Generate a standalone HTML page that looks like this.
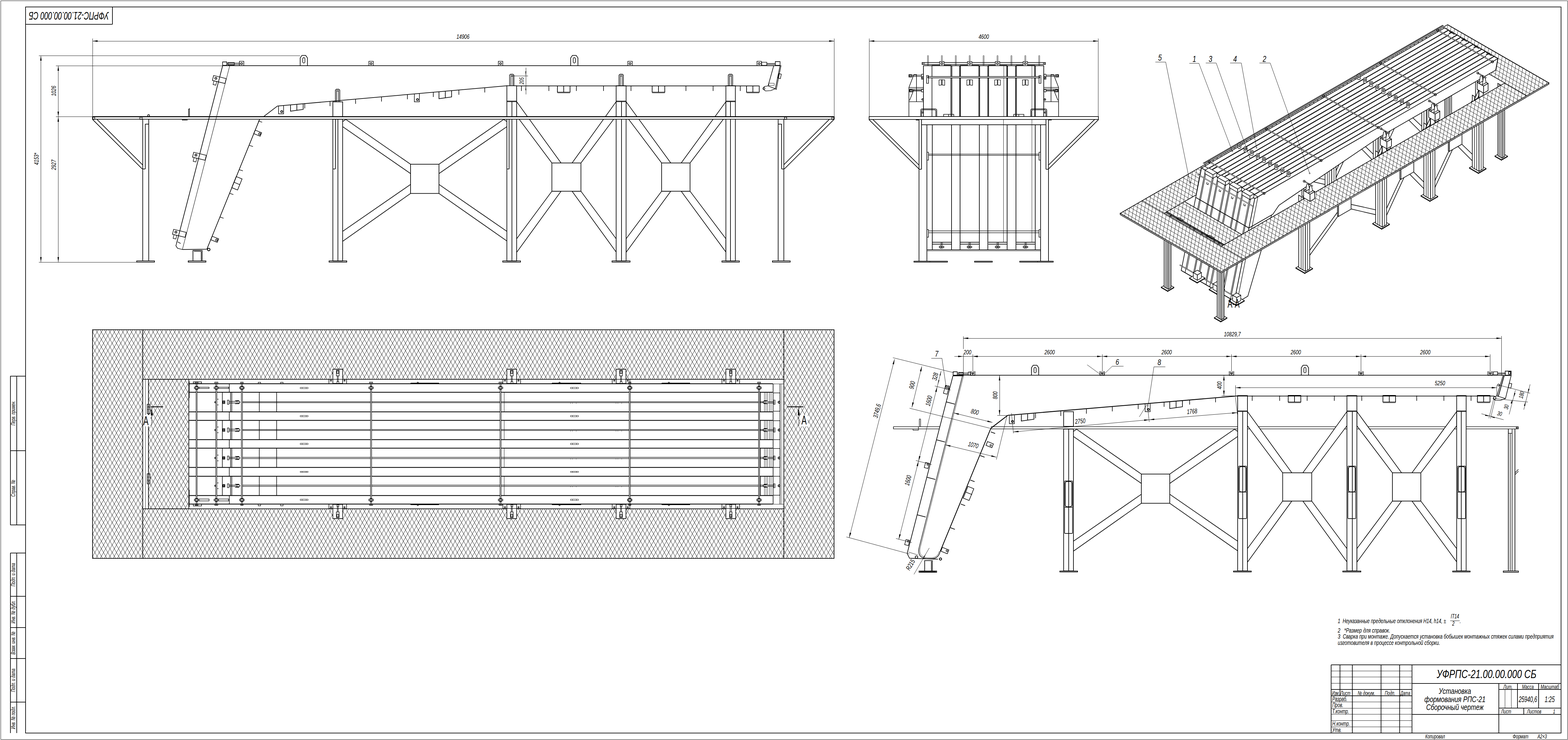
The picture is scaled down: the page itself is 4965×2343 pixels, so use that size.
<!DOCTYPE html>
<html><head><meta charset="utf-8"><title>drawing</title>
<style>
html,body{margin:0;padding:0;background:#fff;}
body{width:4965px;height:2343px;overflow:hidden;}
svg{display:block;font-family:"Liberation Sans",sans-serif;font-style:italic;}
</style></head><body>
<svg width="4965" height="2343" viewBox="0 0 4965 2343" fill="none" stroke="#000" stroke-linecap="butt" stroke-linejoin="miter">
<defs>
<clipPath id="cpl"><path clip-rule="evenodd" d="M293 1044H2641V1768.5H293ZM451.5 1201H2482.5V1611H451.5ZM470 1201H596.5V1611H470Z"/></clipPath>
<clipPath id="cpi"><path clip-rule="evenodd" d="M3547 675.5L4584 78L4904.5 262.5L3867.5 860ZM3686.6 675.2L4583.6 158.4L4764.9 262.8L3867.9 779.6ZM3694.8 670.5L3750.7 638.3L3931.9 742.7L3876 774.9Z"/></clipPath>
</defs>
<rect x="0" y="0" width="4965" height="2343" fill="#fff" stroke="none"/>
<text transform="translate(218 37.5) rotate(180) scale(0.6206 1)" font-size="36" text-anchor="middle" fill="#000" stroke="none">УФРПС-21.00.00.000 СБ</text>
<text transform="translate(48 1308) rotate(-90) scale(0.6196 1)" font-size="19" text-anchor="middle" fill="#000" stroke="none">Перв. примен.</text>
<text transform="translate(48 1546) rotate(-90) scale(0.6196 1)" font-size="19" text-anchor="middle" fill="#000" stroke="none">Справ. №</text>
<text transform="translate(48 1819.6) rotate(-90) scale(0.6196 1)" font-size="19" text-anchor="middle" fill="#000" stroke="none">Подп. и дата</text>
<text transform="translate(48 1937.6) rotate(-90) scale(0.6196 1)" font-size="19" text-anchor="middle" fill="#000" stroke="none">Инв. № дубл.</text>
<text transform="translate(48 2035.8) rotate(-90) scale(0.6196 1)" font-size="19" text-anchor="middle" fill="#000" stroke="none">Взам. инв. №</text>
<text transform="translate(48 2153.8) rotate(-90) scale(0.6196 1)" font-size="19" text-anchor="middle" fill="#000" stroke="none">Подп. и дата</text>
<text transform="translate(48 2271.8) rotate(-90) scale(0.6196 1)" font-size="19" text-anchor="middle" fill="#000" stroke="none">Инв. № подл.</text>
<text transform="translate(4707 2147) scale(0.751 1)" font-size="37" text-anchor="middle" fill="#000" stroke="none">УФРПС-21.00.00.000 СБ</text>
<text transform="translate(4607 2196.5) scale(0.7638 1)" font-size="26" text-anchor="middle" fill="#000" stroke="none">Установка</text>
<text transform="translate(4607 2223) scale(0.7654 1)" font-size="26" text-anchor="middle" fill="#000" stroke="none">формования РПС-21</text>
<text transform="translate(4607 2248) scale(0.7567 1)" font-size="26" text-anchor="middle" fill="#000" stroke="none">Сборочный чертеж</text>
<text transform="translate(4775 2180.5) scale(0.6595 1)" font-size="19" text-anchor="middle" fill="#000" stroke="none">Лит.</text>
<text transform="translate(4838 2180.5) scale(0.6595 1)" font-size="19" text-anchor="middle" fill="#000" stroke="none">Масса</text>
<text transform="translate(4907.5 2180.5) scale(0.6595 1)" font-size="19" text-anchor="middle" fill="#000" stroke="none">Масштаб</text>
<text transform="translate(4838 2223) scale(0.6197 1)" font-size="26" text-anchor="middle" fill="#000" stroke="none">25940,6</text>
<text transform="translate(4907 2223) scale(0.6197 1)" font-size="26" text-anchor="middle" fill="#000" stroke="none">1:25</text>
<text transform="translate(4753 2259) scale(0.6595 1)" font-size="19" fill="#000" stroke="none">Лист</text>
<text transform="translate(4835 2259) scale(0.6595 1)" font-size="19" fill="#000" stroke="none">Листов</text>
<text transform="translate(4921 2259) scale(0.6595 1)" font-size="19" text-anchor="middle" fill="#000" stroke="none">1</text>
<text transform="translate(4217.5 2200.5) scale(0.6002 1)" font-size="19" fill="#000" stroke="none">Изм.</text>
<text transform="translate(4244 2200.5) scale(0.6595 1)" font-size="19" fill="#000" stroke="none">Лист</text>
<text transform="translate(4326.5 2200.5) scale(0.6595 1)" font-size="19" text-anchor="middle" fill="#000" stroke="none">№ докум.</text>
<text transform="translate(4401.5 2200.5) scale(0.6595 1)" font-size="19" text-anchor="middle" fill="#000" stroke="none">Подп.</text>
<text transform="translate(4450 2200.5) scale(0.6196 1)" font-size="19" text-anchor="middle" fill="#000" stroke="none">Дата</text>
<text transform="translate(4218.5 2220) scale(0.6602 1)" font-size="20" fill="#000" stroke="none">Разраб.</text>
<text transform="translate(4218.5 2239.3) scale(0.6602 1)" font-size="20" fill="#000" stroke="none">Пров.</text>
<text transform="translate(4218.5 2259) scale(0.6602 1)" font-size="20" fill="#000" stroke="none">Т.контр.</text>
<text transform="translate(4218.5 2298.3) scale(0.6602 1)" font-size="20" fill="#000" stroke="none">Н.контр.</text>
<text transform="translate(4218.5 2317.8) scale(0.6602 1)" font-size="20" fill="#000" stroke="none">Утв.</text>
<text transform="translate(4513 2338) scale(0.6595 1)" font-size="19" fill="#000" stroke="none">Копировал</text>
<text transform="translate(4790 2338) scale(0.6595 1)" font-size="19" fill="#000" stroke="none">Формат</text>
<text transform="translate(4868.5 2338) scale(0.6595 1)" font-size="19" fill="#000" stroke="none">А2×3</text>
<text transform="translate(4236 1972.5) scale(0.696 1)" font-size="20" fill="#000" stroke="none">1&#160;&#160;Неуказанные предельные отклонения H14, h14, ±</text>
<text transform="translate(4607 1958) scale(0.6602 1)" font-size="20" text-anchor="middle" fill="#000" stroke="none">IT14</text>
<text transform="translate(4602 1981) scale(0.6602 1)" font-size="20" text-anchor="middle" fill="#000" stroke="none">2</text>
<text transform="translate(4622 1973) scale(0.6602 1)" font-size="20" fill="#000" stroke="none">.</text>
<text transform="translate(4236 2002.5) scale(0.7277 1)" font-size="20" fill="#000" stroke="none">2&#160;&#160;&#160;*Размер для справок.</text>
<text transform="translate(4236 2021.5) scale(0.7144 1)" font-size="20" fill="#000" stroke="none">3&#160;&#160;Сварка при монтаже. Допускается установка бобышек монтажных стяжек силами предприятия</text>
<text transform="translate(4236 2041.5) scale(0.7155 1)" font-size="20" fill="#000" stroke="none">изготовителя в процессе контрольной сборки.</text>
<text transform="translate(1466 122.5) scale(0.7005 1)" font-size="21" text-anchor="middle" fill="#000" stroke="none">14906</text>
<text transform="translate(122 503) rotate(-90) scale(0.7005 1)" font-size="21" text-anchor="middle" fill="#000" stroke="none">4153*</text>
<text transform="translate(177 288) rotate(-90) scale(0.7005 1)" font-size="21" text-anchor="middle" fill="#000" stroke="none">1026</text>
<text transform="translate(177 522) rotate(-90) scale(0.7005 1)" font-size="21" text-anchor="middle" fill="#000" stroke="none">2927</text>
<text transform="translate(1658 256) rotate(-90) scale(0.6994 1)" font-size="19" text-anchor="middle" fill="#000" stroke="none">205</text>
<text transform="translate(3115 122.5) scale(0.7005 1)" font-size="21" text-anchor="middle" fill="#000" stroke="none">4600</text>
<text transform="translate(3902 1064.5) scale(0.7005 1)" font-size="21" text-anchor="middle" fill="#000" stroke="none">10829,7</text>
<text transform="translate(3063.5 1121.5) scale(0.7005 1)" font-size="21" text-anchor="middle" fill="#000" stroke="none">200</text>
<text transform="translate(3323.5 1121.5) scale(0.7005 1)" font-size="21" text-anchor="middle" fill="#000" stroke="none">2600</text>
<text transform="translate(3694 1121.5) scale(0.7005 1)" font-size="21" text-anchor="middle" fill="#000" stroke="none">2600</text>
<text transform="translate(4103 1121.5) scale(0.7005 1)" font-size="21" text-anchor="middle" fill="#000" stroke="none">2600</text>
<text transform="translate(4513 1121.5) scale(0.7005 1)" font-size="21" text-anchor="middle" fill="#000" stroke="none">2600</text>
<text transform="translate(4559.5 1220) scale(0.7005 1)" font-size="21" text-anchor="middle" fill="#000" stroke="none">5250</text>
<text transform="translate(3868 1220) rotate(-90) scale(0.7005 1)" font-size="21" text-anchor="middle" fill="#000" stroke="none">400</text>
<text transform="translate(3158 1251.5) rotate(-90) scale(0.7005 1)" font-size="21" text-anchor="middle" fill="#000" stroke="none">800</text>
<text transform="translate(2784 1303) rotate(-75.7) scale(0.7005 1)" font-size="21" text-anchor="middle" fill="#000" stroke="none">3749,6</text>
<text transform="translate(2895 1221) rotate(-75.7) scale(0.7005 1)" font-size="21" text-anchor="middle" fill="#000" stroke="none">900</text>
<text transform="translate(2968 1194) rotate(-75.7) scale(0.7005 1)" font-size="21" text-anchor="middle" fill="#000" stroke="none">328</text>
<text transform="translate(2948 1271) rotate(-75.7) scale(0.7005 1)" font-size="21" text-anchor="middle" fill="#000" stroke="none">1600</text>
<text transform="translate(2882 1523) rotate(-75.7) scale(0.7005 1)" font-size="21" text-anchor="middle" fill="#000" stroke="none">1600</text>
<text transform="translate(3085 1311) rotate(14) scale(0.7005 1)" font-size="21" text-anchor="middle" fill="#000" stroke="none">800</text>
<text transform="translate(3080 1416) rotate(14) scale(0.7005 1)" font-size="21" text-anchor="middle" fill="#000" stroke="none">1070</text>
<text transform="translate(3421 1340.5) rotate(-5) scale(0.7005 1)" font-size="21" text-anchor="middle" fill="#000" stroke="none">2750</text>
<text transform="translate(3775 1309.5) rotate(-5) scale(0.7005 1)" font-size="21" text-anchor="middle" fill="#000" stroke="none">1768</text>
<text transform="translate(2966 1129) scale(0.7496 1)" font-size="26" text-anchor="middle" fill="#000" stroke="none">7</text>
<text transform="translate(3538 1155) scale(0.7496 1)" font-size="26" text-anchor="middle" fill="#000" stroke="none">6</text>
<text transform="translate(3671 1156) scale(0.7496 1)" font-size="26" text-anchor="middle" fill="#000" stroke="none">8</text>
<text transform="translate(2889 1792) rotate(-60) scale(0.7005 1)" font-size="21" text-anchor="middle" fill="#000" stroke="none">R215</text>
<text transform="translate(4824 1252) rotate(-76) scale(0.6994 1)" font-size="19" text-anchor="middle" fill="#000" stroke="none">180</text>
<text transform="translate(4776 1290) rotate(-76) scale(0.6994 1)" font-size="19" text-anchor="middle" fill="#000" stroke="none">30</text>
<text transform="translate(4747 1316) rotate(14) scale(0.6994 1)" font-size="19" text-anchor="middle" fill="#000" stroke="none">30</text>
<text transform="translate(3673 192) scale(0.7504 1)" font-size="27" text-anchor="middle" fill="#000" stroke="none">5</text>
<text transform="translate(3782 196) scale(0.7504 1)" font-size="27" text-anchor="middle" fill="#000" stroke="none">1</text>
<text transform="translate(3833 195.5) scale(0.7504 1)" font-size="27" text-anchor="middle" fill="#000" stroke="none">3</text>
<text transform="translate(3911 195.5) scale(0.7504 1)" font-size="27" text-anchor="middle" fill="#000" stroke="none">4</text>
<text transform="translate(4004 195.5) scale(0.7504 1)" font-size="27" text-anchor="middle" fill="#000" stroke="none">2</text>
<!-- frame -->
<path d="M2.5 2.5L4963.5 2.5L4963.5 2341.5L2.5 2341.5ZM4215.3 2124.5L4471 2124.5M4215.3 2143.5L4471 2143.5M4215.3 2163.5L4471 2163.5M4215.3 2222.5L4471 2222.5M4215.3 2242.5L4471 2242.5M4215.3 2261.5L4471 2261.5M4215.3 2281.5L4471 2281.5M4215.3 2301.5L4471 2301.5M4765.5 2183.3L4765.5 2242.3M4785.5 2183.3L4785.5 2242.3M4592 1965.5L4622 1965.5" stroke-width="1"/>
<path d="M81 22L4943 22L4943 2321L81 2321ZM81 77L356 77M356 22L356 77M33 1191L81 1191M33 1427L81 1427M33 1662L81 1662M33 1190.6L33 1662.5M53 1190.6L53 1662.5M33 1751L81 1751M33 1888L81 1888M33 1987L81 1987M33 2085L81 2085M33 2223L81 2223M33 1750.7L33 2321M53 1750.7L53 2321M4215.3 2105L4943 2105M4215 2104.7L4215 2321M4282 2104.7L4282 2321M4373 2104.7L4373 2321M4432 2104.7L4432 2321M4471 2104.7L4471 2321M4243 2104.7L4243 2203M4215.3 2183L4471 2183M4215.3 2203L4471 2203M4471 2164L4943 2164M4471 2262L4943 2262M4746 2163.7L4746 2321M4746.3 2183L4943 2183M4746.3 2242L4943 2242M4805 2163.7L4805 2242.3M4872 2163.7L4872 2242.3M4825 2242.3L4825 2262" stroke-width="2"/>
<!-- side view -->
<path d="M293 130.5L2641.5 130.5" stroke-width="1"/>
<path d="M293 130L309 127.6L309 132.4Z" fill="#000" stroke="none"/>
<path d="M2641.5 130L2625.5 132.4L2625.5 127.6Z" fill="#000" stroke="none"/>
<path d="M293.5 122L293.5 369M2641.5 122L2641.5 369M129.5 176L129.5 830" stroke-width="1"/>
<path d="M129.5 176L131.9 192L127.1 192Z" fill="#000" stroke="none"/>
<path d="M129.5 830L127.1 814L131.9 814Z" fill="#000" stroke="none"/>
<path d="M123 176.5L950 176.5M184.5 208L184.5 369.5" stroke-width="1"/>
<path d="M184.5 208L186.9 224L182.1 224Z" fill="#000" stroke="none"/>
<path d="M184.5 369.5L182.1 353.5L186.9 353.5Z" fill="#000" stroke="none"/>
<path d="M184.5 369.5L186.9 385.5L182.1 385.5Z" fill="#000" stroke="none"/>
<path d="M184.5 369.5L184.5 830" stroke-width="1"/>
<path d="M184.5 830L182.1 814L186.9 814Z" fill="#000" stroke="none"/>
<path d="M177 208.5L705 208.5M177 369.5L293 369.5M123 830.5L435 830.5M1665.5 214L1665.5 299" stroke-width="1"/>
<path d="M1665 240L1663.5 226L1666.5 226Z" fill="#000" stroke="none"/>
<path d="M1665 271.5L1666.5 285.5L1663.5 285.5Z" fill="#000" stroke="none"/>
<path d="M1620 240.5L1672 240.5" stroke-width="1"/>
<path d="M1095 378L1300 520L1300 549.5L1085 401L1085 385Z" fill="#fff" stroke="#000" stroke-width="2"/>
<path d="M1595 378L1390 520L1390 549.5L1605 401L1605 385Z" fill="#fff" stroke="#000" stroke-width="2"/>
<path d="M1300 584L1085 732.5L1085 764L1300 612.5Z" fill="#fff" stroke="#000" stroke-width="2"/>
<path d="M1390 584L1605 732.5L1605 763L1390 612.5Z" fill="#fff" stroke="#000" stroke-width="2"/>
<path d="M1300 520L1390 520L1390 612.5L1300 612.5Z" fill="#fff" stroke="#000" stroke-width="2"/>
<path d="M1636 322L1776.5 516L1747.5 516L1636 367Z" fill="#fff" stroke="#000" stroke-width="2"/>
<path d="M1951 322L1811.5 516L1839.5 516L1951 367Z" fill="#fff" stroke="#000" stroke-width="2"/>
<path d="M1747.5 605.5L1636 756L1636 799L1776.5 605.5Z" fill="#fff" stroke="#000" stroke-width="2"/>
<path d="M1839.5 605.5L1951 756L1951 798L1811.5 605.5Z" fill="#fff" stroke="#000" stroke-width="2"/>
<path d="M1747.5 516L1839.5 516L1839.5 605.5L1747.5 605.5Z" fill="#fff" stroke="#000" stroke-width="2"/>
<path d="M1982.5 322L2124 516L2095 516L1982.5 367Z" fill="#fff" stroke="#000" stroke-width="2"/>
<path d="M2298.5 322L2157 516L2185 516L2298.5 367Z" fill="#fff" stroke="#000" stroke-width="2"/>
<path d="M2095 605.5L1982.5 756L1982.5 799L2124 605.5Z" fill="#fff" stroke="#000" stroke-width="2"/>
<path d="M2185 605.5L2298.5 756L2298.5 798L2157 605.5Z" fill="#fff" stroke="#000" stroke-width="2"/>
<path d="M2095 516L2185 516L2185 605.5L2095 605.5Z" fill="#fff" stroke="#000" stroke-width="2"/>
<path d="M1054 377.5L1085 377.5L1085 826.5L1054 826.5Z" fill="#fff" stroke="#000" stroke-width="2"/>
<path d="M1070 377.5L1070 826.5M1042 826L1098 826L1098 830L1042 830ZM1062 377.5L1062 535M1054 535L1061.5 535" stroke-width="2"/>
<path d="M1054 322.5L1085 322.5L1085 369L1054 369Z" fill="#fff" stroke="#000" stroke-width="2"/>
<path d="M1605 321.5L1636 321.5L1636 826.5L1605 826.5Z" fill="#fff" stroke="#000" stroke-width="2"/>
<path d="M1621 321.5L1621 826.5M1592 826L1648 826L1648 830L1592 830ZM1612 377.5L1612 535M1605 535L1612.5 535" stroke-width="2"/>
<path d="M1605 271.5L1636 271.5L1636 321.5L1605 321.5Z" fill="#fff" stroke="#000" stroke-width="2"/>
<path d="M1606 319.5L1635 319.5" stroke-width="1"/>
<path d="M1951 321.5L1982.5 321.5L1982.5 826.5L1951 826.5Z" fill="#fff" stroke="#000" stroke-width="2"/>
<path d="M1968 321.5L1968 826.5M1938 826L1995 826L1995 830L1938 830Z" stroke-width="2"/>
<path d="M1951 271.5L1982.5 271.5L1982.5 321.5L1951 321.5Z" fill="#fff" stroke="#000" stroke-width="2"/>
<path d="M1952 319.5L1981.5 319.5" stroke-width="1"/>
<path d="M2298.5 321.5L2328.5 321.5L2328.5 826.5L2298.5 826.5Z" fill="#fff" stroke="#000" stroke-width="2"/>
<path d="M2313 321.5L2313 826.5M2286 826L2341 826L2341 830L2286 830Z" stroke-width="2"/>
<path d="M2298.5 271.5L2328.5 271.5L2328.5 321.5L2298.5 321.5Z" fill="#fff" stroke="#000" stroke-width="2"/>
<path d="M2299.5 319.5L2327.5 319.5" stroke-width="1"/>
<path d="M293 369.5L2641.5 369.5L2641.5 377.5L293 377.5Z" fill="#fff" stroke="#000" stroke-width="2"/>
<path d="M293 369.5L2641.5 369.5" stroke-width="3"/>
<path d="M294 371L300 371L300 378L294 378ZM443 371L450 371L450 378L443 378ZM2484 371L2491 371L2491 378L2484 378ZM2634 371L2640 371L2640 378L2634 378Z" stroke-width="1.7"/>
<path d="M452 377.5L452 826.5M471 377.5L471 826.5M460 393L460 535M451.5 535L460 535M460 393L471 393M433 826L489 826L489 830L433 830ZM293 378L450.5 535M307 378L451.5 522" stroke-width="2"/>
<circle cx="470.5" cy="366" r="3" stroke-width="1.8" fill="none"/>
<path d="M597 369L597 346L600 344L600 369M563 766L572 771M614 796L637 796M637 796L637 826M882 335.4L882 360.4L898 360.4L898 334" stroke-width="1.7"/>
<path d="M576 380L594 380M559 771L557 778L562 786L577.5 790M965 328.1L965 343.1M1045 321L1045 336M1126 313.8L1126 328.8M1208 306.6L1208 321.6M1290 299.3L1290 314.3M1372 292.1L1372 307.1M1453 284.9L1453 299.9M1535 277.7L1535 292.7M1651 271.5L1651 288M1738 271.5L1738 288M1825 271.5L1825 288M1911 271.5L1911 288M1998 271.5L1998 288M2172 271.5L2172 288M2258 271.5L2258 288M2344 271.5L2344 288" stroke-width="1.8"/>
<path d="M2464 377.5L2464 826.5M2482 377.5L2482 826.5M2475 393L2475 535M2475 535L2482.5 535M2463.5 393L2475 393M2446 826L2502 826L2502 830L2446 830ZM2641 378L2483.5 535M2626 378L2482.5 521M727.5 208L2470 208M878.5 335.7L1605 271.5M1636 272L2405 272M878.5 335.7L835 369M705 208L559 771M705 208L727.5 208M822 378L655 789M577.5 790L655 789M611 793L640 793L640 826L611 826ZM596 826L652 826L652 830L596 830ZM1765 272L1805 272L1805 292L1765 292ZM1785 271.5L1785 292M2065 272L2105 272L2105 292L2065 292ZM2085 271.5L2085 292M2364 272L2404 272L2404 292L2364 292ZM2384 271.5L2384 292M1390 290.5L1390 312.5L1430 307L1430 287M1410 288.7L1410 308.7M920 332L920 352L960 346.5L960 328.5M940 330.3L940 349.3" stroke-width="2"/>
<path d="M727.5 208L577.5 790" stroke-width="1.2"/>
<path d="M1765 294.5L1805 294.5M2065 294.5L2105 294.5M2364 294.5L2404 294.5" stroke-width="1"/>
<circle cx="892" cy="353.4" r="3" stroke-width="2.2"/>
<path d="M1312 297.4L1312 322.4L1328 322.4L1328 296" stroke-width="1.7"/>
<circle cx="1322" cy="315.4" r="3" stroke-width="2.2"/>
<path d="M950.5 207.5L950.5 183.5L956 175.5L968 175.5L973.5 183.5L973.5 207.5" stroke-width="2"/>
<rect x="958.5" y="182.5" width="7" height="17" rx="3.5" stroke-width="1.8"/>
<path d="M1807 207.5L1807 183.5L1812.5 175.5L1824.5 175.5L1830 183.5L1830 207.5" stroke-width="2"/>
<rect x="1815" y="182.5" width="7" height="17" rx="3.5" stroke-width="1.8"/>
<path d="M1168 194L1182 194L1182 208L1168 208Z" stroke-width="1.7"/>
<circle cx="1175" cy="201.5" r="3" stroke-width="1.8"/>
<path d="M1578 194L1592 194L1592 208L1578 208Z" stroke-width="1.7"/>
<circle cx="1585" cy="201.5" r="3" stroke-width="1.8"/>
<path d="M1988 194L2002 194L2002 208L1988 208Z" stroke-width="1.7"/>
<circle cx="1995" cy="201.5" r="3" stroke-width="1.8"/>
<path d="M2397 194L2411 194L2411 208L2397 208Z" stroke-width="1.7"/>
<circle cx="2404" cy="201.5" r="3" stroke-width="1.8"/>
<path d="M758 194L772 194L772 208L758 208Z" stroke-width="1.7"/>
<circle cx="765" cy="201.5" r="3" stroke-width="1.8"/>
<path d="M1062 322.5L1062 285.5L1065 282.5L1073 282.5L1076 285.5L1076 322.5" stroke-width="1.8"/>
<path d="M1066 285.5L1066 322.5M1072 285.5L1072 322.5" stroke-width="1.7"/>
<circle cx="1069" cy="287.5" r="2.2" stroke-width="1"/>
<path d="M1613.5 271.5L1613.5 238L1616.5 235L1624.5 235L1627.5 238L1627.5 271.5" stroke-width="1.8"/>
<path d="M1618 238L1618 271.5M1624 238L1624 271.5" stroke-width="1.7"/>
<circle cx="1620.5" cy="240" r="2.2" stroke-width="1"/>
<path d="M1960 271.5L1960 238L1963 235L1971 235L1974 238L1974 271.5" stroke-width="1.8"/>
<path d="M1964 238L1964 271.5M1970 238L1970 271.5" stroke-width="1.7"/>
<circle cx="1967" cy="240" r="2.2" stroke-width="1"/>
<path d="M2306 271.5L2306 238L2309 235L2317 235L2320 238L2320 271.5" stroke-width="1.8"/>
<path d="M2310 238L2310 271.5M2316 238L2316 271.5" stroke-width="1.7"/>
<circle cx="2313" cy="240" r="2.2" stroke-width="1"/>
<path d="M705 196L718 196L718 207L705 207ZM676.5 239L716.3 248.9L712.4 264.4L672.6 254.5Z" stroke-width="1.8"/>
<path d="M718 200L760 200M718 204L760 204M722 198L742 198L742 206L722 206Z" stroke-width="1.7"/>
<circle cx="683.5" cy="248" r="3" stroke-width="2.2" fill="none"/>
<path d="M677.5 256L686.2 258.2L683.3 269.8L674.6 267.6Z" stroke-width="1.5"/>
<path d="M613.5 482L653.3 491.9L649.4 507.4L609.6 497.5Z" stroke-width="1.8"/>
<circle cx="620.5" cy="491" r="3" stroke-width="2.2" fill="none"/>
<path d="M614.5 499L623.2 501.2L620.3 512.8L611.6 510.6Z" stroke-width="1.5"/>
<path d="M550 726L589.8 735.9L585.9 751.4L546.1 741.5Z" stroke-width="1.8"/>
<circle cx="557" cy="735" r="3" stroke-width="2.2" fill="none"/>
<path d="M551 743L559.7 745.2L556.8 756.8L548.1 754.6Z" stroke-width="1.5"/>
<path d="M808 412L828.4 420.2L823.9 431.4L803.5 423.1Z" stroke-width="1.8"/>
<circle cx="822" cy="424" r="3" stroke-width="1.8" fill="none"/>
<path d="M672 748L692.4 756.2L687.9 767.4L667.5 759.1Z" stroke-width="1.8"/>
<circle cx="686" cy="760" r="3" stroke-width="1.8" fill="none"/>
<path d="M818 383L830 387M789 460L801 464M757 537L769 541M727 612L739 616M696 687L708 691M748 559L766.5 566.5L752.3 601.7L733.8 594.2ZM741 577L760 585" stroke-width="1.8"/>
<circle cx="661" cy="790" r="4" stroke-width="2.5" fill="none"/>
<path d="M2450 208L2470 208L2455 281L2432 272ZM2455 195L2470 195L2470 207L2455 207Z" stroke-width="1.8"/>
<path d="M2470 208L2473 208L2458 283L2455 281M2412 197L2428 197L2428 207L2412 207ZM2428 201L2455 201M2428 204L2455 204M2466 233L2474 235L2471 249L2463 247ZM2432 272L2420 274L2416 282L2424 288L2440 287L2455 281" stroke-width="1.7"/>
<circle cx="2419" cy="280" r="3" stroke-width="1.6" fill="none"/>
<path d="M2434.5 263.5L2451.5 263.5L2451.5 270.5L2434.5 270.5Z" stroke-width="1"/>
<!-- front view -->
<path d="M2752.3 130.5L3477.7 130.5" stroke-width="1"/>
<path d="M2752.3 130L2768.3 127.6L2768.3 132.4Z" fill="#000" stroke="none"/>
<path d="M3477.7 130L3461.7 132.4L3461.7 127.6Z" fill="#000" stroke="none"/>
<path d="M2752.5 122L2752.5 369M3477.5 122L3477.5 369M3177.5 369L3177.5 767M3267.5 369L3267.5 767M2979.5 767L2979.5 788M2981.5 767L2981.5 788M2984.5 767L2984.5 788" stroke-width="1"/>
<path d="M2751.4 378.5L2909.7 534.8M2764 378.5L2909.7 522.4M2910 378.5L2910 826.7M2918 378.5L2918 536M2909.7 536L2917.9 536M2935 395L2935 826.7M2900 380L2909 380M3478.6 378.5L3320.3 534.8M3466 378.5L3320.3 522.4M3320 378.5L3320 826.7M3312 378.5L3312 536M3320.3 536L3312.1 536M3295 395L3295 826.7M3330 380L3321 380M2918 395L3312 395M2952 395L2952 767M2952 767L2952 791M3013 395L3013 767M3013 767L3013 791M3040 395L3040 767M3040 767L3040 791M3101 395L3101 767M3101 767L3101 791M3128 395L3128 767M3128 767L3128 791M3189 395L3189 767M3189 767L3189 791M3217 395L3217 767M3217 767L3217 791M3278 395L3278 767M3278 767L3278 791M2951.6 767L3012 767M2951.6 773L3012 773" stroke-width="2"/>
<path d="M2935 482L2940 482L2940 507L2935 507ZM2935 727L2940 727L2940 751L2935 751ZM3295 482L3290 482L3290 507L3295 507ZM3295 727L3290 727L3290 751L3295 751ZM2940.5 488L3289.5 488M2940.5 492L3289.5 492M2940.5 731L3289.5 731M2940.5 737L3289.5 737" stroke-width="1.7"/>
<circle cx="2977.3" cy="782" r="3" stroke-width="1.8" fill="none"/>
<circle cx="2986.3" cy="782" r="2.5" stroke-width="1.7" fill="none"/>
<path d="M3040.4 767L3100 767M3040.4 773L3100 773" stroke-width="2"/>
<path d="M3067.5 767L3067.5 788M3070.5 767L3070.5 788M3072.5 767L3072.5 788" stroke-width="1"/>
<circle cx="3065.7" cy="782" r="3" stroke-width="1.8" fill="none"/>
<circle cx="3074.7" cy="782" r="2.5" stroke-width="1.7" fill="none"/>
<path d="M3129.7 767L3188.5 767M3129.7 773L3188.5 773" stroke-width="2"/>
<path d="M3156.5 767L3156.5 788M3159.5 767L3159.5 788M3161.5 767L3161.5 788" stroke-width="1"/>
<circle cx="3154.6" cy="782" r="3" stroke-width="1.8" fill="none"/>
<circle cx="3163.6" cy="782" r="2.5" stroke-width="1.7" fill="none"/>
<path d="M3218 767L3277 767M3218 773L3277 773" stroke-width="2"/>
<path d="M3245.5 767L3245.5 788M3247.5 767L3247.5 788M3250.5 767L3250.5 788" stroke-width="1"/>
<circle cx="3243" cy="782" r="3" stroke-width="1.8" fill="none"/>
<circle cx="3252" cy="782" r="2.5" stroke-width="1.7" fill="none"/>
<path d="M2935.2 791L3294.8 791" stroke-width="2"/>
<path d="M2935.2 794.5L3294.8 794.5M2944.5 826.7L2944.5 830M3285.5 826.7L3285.5 830" stroke-width="1"/>
<path d="M2894 827L3000 827L3000 830L2894 830ZM3086 827L3142 827L3142 830L3086 830ZM3229 827L3335 827L3335 830L3229 830Z" stroke-width="1.8"/>
<path d="M2752 369L3478 369L3478 378.3L2752 378.3Z" fill="#fff" stroke="#000" stroke-width="2"/>
<path d="M2752 369L3478 369" stroke-width="2.2"/>
<path d="M2924 207.8L2924 369M3305 207.8L3305 369M2923.8 208L3305.4 208M3014 207.8L3014 369M3039 207.8L3039 369M3102 207.8L3102 369M3128 207.8L3128 369M3190 207.8L3190 369M3216 207.8L3216 369M3278 207.8L3278 369" stroke-width="2"/>
<path d="M2951.1 369L2951.1 206.8L3010.8 206.8L3010.8 369M3041 369L3041 206.8L3099.4 206.8L3099.4 369M3130.5 369L3130.5 206.8L3188 206.8L3188 369M3218.4 369L3218.4 206.8L3276.5 206.8L3276.5 369" stroke-width="1.8"/>
<path d="M3178.5 207.8L3178.5 369M3267.5 207.8L3267.5 369" stroke-width="1"/>
<path d="M2937.8 242.3L3292.2 242.3L3292.2 246.7L2937.8 246.7Z" fill="#fff" stroke="#000" stroke-width="1.7"/>
<path d="M2934 239L2940 239L2940 264L2934 264ZM3290 239L3296 239L3296 264L3290 264Z" stroke-width="1.7"/>
<path d="M2919.7 197.9L3310.3 197.9L3310.3 204.1L2919.7 204.1Z" fill="#fff" stroke="#000" stroke-width="1.7"/>
<path d="M2919.5 197.5L2927.5 197.5L2927.5 204.5L2919.5 204.5ZM3303.5 197.5L3310.5 197.5L3310.5 204.5L3303.5 204.5Z" stroke-width="1"/>
<circle cx="2923.3" cy="201" r="1.5" stroke-width="1" fill="none"/>
<circle cx="3306.7" cy="201" r="1.5" stroke-width="1" fill="none"/>
<path d="M2936.9 207.8L2936.9 176.5L2938.4 175L2939.9 176.5L2939.9 207.8M2980.9 197.9L2980.9 176.5L2982.4 175L2983.9 176.5L2983.9 197.9" stroke-width="1"/>
<path d="M2975.4 195L2989.4 195L2989.4 208L2975.4 208Z" fill="#fff" stroke="#000" stroke-width="1.7"/>
<circle cx="2982.4" cy="201.5" r="3" stroke-width="1.8" fill="none"/>
<path d="M2973.4 270.3L2973.4 253L2981.4 252.3L2981.4 269L2973.4 270.3M2991.4 270.3L2991.4 253L2983.4 252.3L2983.4 269L2991.4 270.3" stroke-width="1.5"/>
<path d="M3025 207.8L3025 176.5L3026.5 175L3028 176.5L3028 207.8M3069 197.9L3069 176.5L3070.5 175L3072 176.5L3072 197.9" stroke-width="1"/>
<path d="M3063.5 195L3077.5 195L3077.5 208L3063.5 208Z" fill="#fff" stroke="#000" stroke-width="1.7"/>
<circle cx="3070.5" cy="201.5" r="3" stroke-width="1.8" fill="none"/>
<path d="M3061.5 270.3L3061.5 253L3069.5 252.3L3069.5 269L3061.5 270.3M3079.5 270.3L3079.5 253L3071.5 252.3L3071.5 269L3079.5 270.3" stroke-width="1.5"/>
<path d="M3113 207.8L3113 176.5L3114.5 175L3116 176.5L3116 207.8M3157.1 197.9L3157.1 176.5L3158.6 175L3160.1 176.5L3160.1 197.9" stroke-width="1"/>
<path d="M3151.6 195L3165.6 195L3165.6 208L3151.6 208Z" fill="#fff" stroke="#000" stroke-width="1.7"/>
<circle cx="3158.6" cy="201.5" r="3" stroke-width="1.8" fill="none"/>
<path d="M3149.6 270.3L3149.6 253L3157.6 252.3L3157.6 269L3149.6 270.3M3167.6 270.3L3167.6 253L3159.6 252.3L3159.6 269L3167.6 270.3" stroke-width="1.5"/>
<path d="M3201.1 207.8L3201.1 176.5L3202.6 175L3204.1 176.5L3204.1 207.8M3245.1 197.9L3245.1 176.5L3246.6 175L3248.1 176.5L3248.1 197.9" stroke-width="1"/>
<path d="M3239.6 195L3253.6 195L3253.6 208L3239.6 208Z" fill="#fff" stroke="#000" stroke-width="1.7"/>
<circle cx="3246.6" cy="201.5" r="3" stroke-width="1.8" fill="none"/>
<path d="M3237.6 270.3L3237.6 253L3245.6 252.3L3245.6 269L3237.6 270.3M3255.6 270.3L3255.6 253L3247.6 252.3L3247.6 269L3255.6 270.3" stroke-width="1.5"/>
<path d="M3289.1 207.8L3289.1 176.5L3290.6 175L3292.1 176.5L3292.1 207.8" stroke-width="1"/>
<path d="M2878 277L2878 369M2902 235L2902 322M2894 235.5L2878 277M2894 236L2902 236M2877.8 277L2923.8 277M2880 282L2923.8 282M2877.8 322L2923.8 322M2894 283.5L2880 318M2878 236L2887 236L2887 244L2878 244Z" stroke-width="1.7"/>
<circle cx="2882" cy="240" r="2.5" stroke-width="1.6" fill="none"/>
<path d="M2880 283L2889 283L2889 291L2880 291Z" stroke-width="1.7"/>
<circle cx="2884" cy="287" r="2.5" stroke-width="1.6" fill="none"/>
<path d="M2887 238L2918 238M2887 242L2918 242M2889 286L2918 286M2889 288L2918 288M2918 235L2924 235L2924 251L2918 251ZM2918 283L2924 283L2924 291L2918 291Z" stroke-width="1.5"/>
<circle cx="2921.5" cy="245.5" r="2.5" stroke-width="2" fill="none"/>
<circle cx="2921.5" cy="315" r="2.5" stroke-width="2" fill="none"/>
<circle cx="2921" cy="356" r="2.2" stroke-width="1.6" fill="none"/>
<path d="M2915.4 369V350Q2915.4 344.6 2921 344.6H2960.5Q2966.3 344.6 2966.3 350V369" stroke-width="1.7"/>
<path d="M2918.4 369V352Q2918.4 347.6 2923 347.6H2958.5Q2963.3 347.6 2963.3 352V369" stroke-width="1.7"/>
<path d="M2988 362L3020 362L3020 369L2988 369ZM3004 361.7L3004 369M3352 277L3352 369M3328 235L3328 322M3336 235.5L3352 277M3336 236L3328 236M3352.2 277L3306.2 277M3350 282L3306.2 282M3352.2 322L3306.2 322M3336 283.5L3350 318M3352 236L3343 236L3343 244L3352 244Z" stroke-width="1.7"/>
<circle cx="3348" cy="240" r="2.5" stroke-width="1.6" fill="none"/>
<path d="M3350 283L3341 283L3341 291L3350 291Z" stroke-width="1.7"/>
<circle cx="3346" cy="287" r="2.5" stroke-width="1.6" fill="none"/>
<path d="M3343 238L3312 238M3343 242L3312 242M3341 286L3312 286M3341 288L3312 288M3312 235L3306 235L3306 251L3312 251ZM3312 283L3306 283L3306 291L3312 291Z" stroke-width="1.5"/>
<circle cx="3308.5" cy="245.5" r="2.5" stroke-width="2" fill="none"/>
<circle cx="3308.5" cy="315" r="2.5" stroke-width="2" fill="none"/>
<circle cx="3309" cy="356" r="2.2" stroke-width="1.6" fill="none"/>
<path d="M3314.6 369V350Q3314.6 344.6 3309 344.6H3269.5Q3263.7 344.6 3263.7 350V369" stroke-width="1.7"/>
<path d="M3311.6 369V352Q3311.6 347.6 3307 347.6H3271.5Q3266.7 347.6 3266.7 352V369" stroke-width="1.7"/>
<path d="M3242 362L3210 362L3210 369L3242 369ZM3226 361.7L3226 369" stroke-width="1.7"/>
<!-- plan view -->
<path clip-path="url(#cpl)" stroke-width="1" d="M-147.7 1044L270.6 1768.5M-139.3 1044L-557.6 1768.5M-134 1044L284.3 1768.5M-125.6 1044L-543.9 1768.5M-120.4 1044L297.9 1768.5M-111.9 1044L-530.2 1768.5M-106.7 1044L311.6 1768.5M-98.3 1044L-516.6 1768.5M-93.1 1044L325.2 1768.5M-84.6 1044L-502.9 1768.5M-79.4 1044L338.9 1768.5M-71 1044L-489.3 1768.5M-65.7 1044L352.6 1768.5M-57.3 1044L-475.6 1768.5M-52.1 1044L366.2 1768.5M-43.6 1044L-461.9 1768.5M-38.4 1044L379.9 1768.5M-30 1044L-448.3 1768.5M-24.8 1044L393.5 1768.5M-16.3 1044L-434.6 1768.5M-11.1 1044L407.2 1768.5M-2.7 1044L-421 1768.5M2.6 1044L420.9 1768.5M11 1044L-407.3 1768.5M16.2 1044L434.5 1768.5M24.7 1044L-393.6 1768.5M29.9 1044L448.2 1768.5M38.3 1044L-380 1768.5M43.5 1044L461.8 1768.5M52 1044L-366.3 1768.5M57.2 1044L475.5 1768.5M65.6 1044L-352.7 1768.5M70.9 1044L489.2 1768.5M79.3 1044L-339 1768.5M84.5 1044L502.8 1768.5M93 1044L-325.3 1768.5M98.2 1044L516.5 1768.5M106.6 1044L-311.7 1768.5M111.8 1044L530.1 1768.5M120.3 1044L-298 1768.5M125.5 1044L543.8 1768.5M133.9 1044L-284.4 1768.5M139.2 1044L557.5 1768.5M147.6 1044L-270.7 1768.5M152.8 1044L571.1 1768.5M161.3 1044L-257 1768.5M166.5 1044L584.8 1768.5M174.9 1044L-243.4 1768.5M180.1 1044L598.4 1768.5M188.6 1044L-229.7 1768.5M193.8 1044L612.1 1768.5M202.2 1044L-216.1 1768.5M207.5 1044L625.8 1768.5M215.9 1044L-202.4 1768.5M221.1 1044L639.4 1768.5M229.6 1044L-188.7 1768.5M234.8 1044L653.1 1768.5M243.2 1044L-175.1 1768.5M248.4 1044L666.7 1768.5M256.9 1044L-161.4 1768.5M262.1 1044L680.4 1768.5M270.5 1044L-147.8 1768.5M275.8 1044L694.1 1768.5M284.2 1044L-134.1 1768.5M289.4 1044L707.7 1768.5M297.9 1044L-120.4 1768.5M303.1 1044L721.4 1768.5M311.5 1044L-106.8 1768.5M316.7 1044L735 1768.5M325.2 1044L-93.1 1768.5M330.4 1044L748.7 1768.5M338.8 1044L-79.5 1768.5M344.1 1044L762.4 1768.5M352.5 1044L-65.8 1768.5M357.7 1044L776 1768.5M366.2 1044L-52.1 1768.5M371.4 1044L789.7 1768.5M379.8 1044L-38.5 1768.5M385 1044L803.3 1768.5M393.5 1044L-24.8 1768.5M398.7 1044L817 1768.5M407.1 1044L-11.2 1768.5M412.4 1044L830.7 1768.5M420.8 1044L2.5 1768.5M426 1044L844.3 1768.5M434.5 1044L16.2 1768.5M439.7 1044L858 1768.5M448.1 1044L29.8 1768.5M453.3 1044L871.6 1768.5M461.8 1044L43.5 1768.5M467 1044L885.3 1768.5M475.4 1044L57.1 1768.5M480.7 1044L899 1768.5M489.1 1044L70.8 1768.5M494.3 1044L912.6 1768.5M502.8 1044L84.5 1768.5M508 1044L926.3 1768.5M516.4 1044L98.1 1768.5M521.6 1044L939.9 1768.5M530.1 1044L111.8 1768.5M535.3 1044L953.6 1768.5M543.7 1044L125.4 1768.5M549 1044L967.3 1768.5M557.4 1044L139.1 1768.5M562.6 1044L980.9 1768.5M571.1 1044L152.8 1768.5M576.3 1044L994.6 1768.5M584.7 1044L166.4 1768.5M589.9 1044L1008.2 1768.5M598.4 1044L180.1 1768.5M603.6 1044L1021.9 1768.5M612 1044L193.7 1768.5M617.3 1044L1035.6 1768.5M625.7 1044L207.4 1768.5M630.9 1044L1049.2 1768.5M639.4 1044L221.1 1768.5M644.6 1044L1062.9 1768.5M653 1044L234.7 1768.5M658.2 1044L1076.5 1768.5M666.7 1044L248.4 1768.5M671.9 1044L1090.2 1768.5M680.3 1044L262 1768.5M685.6 1044L1103.9 1768.5M694 1044L275.7 1768.5M699.2 1044L1117.5 1768.5M707.7 1044L289.4 1768.5M712.9 1044L1131.2 1768.5M721.3 1044L303 1768.5M726.5 1044L1144.8 1768.5M735 1044L316.7 1768.5M740.2 1044L1158.5 1768.5M748.6 1044L330.3 1768.5M753.9 1044L1172.2 1768.5M762.3 1044L344 1768.5M767.5 1044L1185.8 1768.5M776 1044L357.7 1768.5M781.2 1044L1199.5 1768.5M789.6 1044L371.3 1768.5M794.8 1044L1213.1 1768.5M803.3 1044L385 1768.5M808.5 1044L1226.8 1768.5M816.9 1044L398.6 1768.5M822.2 1044L1240.5 1768.5M830.6 1044L412.3 1768.5M835.8 1044L1254.1 1768.5M844.3 1044L426 1768.5M849.5 1044L1267.8 1768.5M857.9 1044L439.6 1768.5M863.1 1044L1281.4 1768.5M871.6 1044L453.3 1768.5M876.8 1044L1295.1 1768.5M885.2 1044L466.9 1768.5M890.5 1044L1308.8 1768.5M898.9 1044L480.6 1768.5M904.1 1044L1322.4 1768.5M912.6 1044L494.3 1768.5M917.8 1044L1336.1 1768.5M926.2 1044L507.9 1768.5M931.4 1044L1349.7 1768.5M939.9 1044L521.6 1768.5M945.1 1044L1363.4 1768.5M953.5 1044L535.2 1768.5M958.8 1044L1377.1 1768.5M967.2 1044L548.9 1768.5M972.4 1044L1390.7 1768.5M980.9 1044L562.6 1768.5M986.1 1044L1404.4 1768.5M994.5 1044L576.2 1768.5M999.7 1044L1418 1768.5M1008.2 1044L589.9 1768.5M1013.4 1044L1431.7 1768.5M1021.8 1044L603.5 1768.5M1027.1 1044L1445.4 1768.5M1035.5 1044L617.2 1768.5M1040.7 1044L1459 1768.5M1049.2 1044L630.9 1768.5M1054.4 1044L1472.7 1768.5M1062.8 1044L644.5 1768.5M1068 1044L1486.3 1768.5M1076.5 1044L658.2 1768.5M1081.7 1044L1500 1768.5M1090.1 1044L671.8 1768.5M1095.4 1044L1513.7 1768.5M1103.8 1044L685.5 1768.5M1109 1044L1527.3 1768.5M1117.5 1044L699.2 1768.5M1122.7 1044L1541 1768.5M1131.1 1044L712.8 1768.5M1136.3 1044L1554.6 1768.5M1144.8 1044L726.5 1768.5M1150 1044L1568.3 1768.5M1158.4 1044L740.1 1768.5M1163.7 1044L1582 1768.5M1172.1 1044L753.8 1768.5M1177.3 1044L1595.6 1768.5M1185.8 1044L767.5 1768.5M1191 1044L1609.3 1768.5M1199.4 1044L781.1 1768.5M1204.6 1044L1622.9 1768.5M1213.1 1044L794.8 1768.5M1218.3 1044L1636.6 1768.5M1226.7 1044L808.4 1768.5M1232 1044L1650.3 1768.5M1240.4 1044L822.1 1768.5M1245.6 1044L1663.9 1768.5M1254.1 1044L835.8 1768.5M1259.3 1044L1677.6 1768.5M1267.7 1044L849.4 1768.5M1272.9 1044L1691.2 1768.5M1281.4 1044L863.1 1768.5M1286.6 1044L1704.9 1768.5M1295 1044L876.7 1768.5M1300.3 1044L1718.6 1768.5M1308.7 1044L890.4 1768.5M1313.9 1044L1732.2 1768.5M1322.4 1044L904.1 1768.5M1327.6 1044L1745.9 1768.5M1336 1044L917.7 1768.5M1341.2 1044L1759.5 1768.5M1349.7 1044L931.4 1768.5M1354.9 1044L1773.2 1768.5M1363.3 1044L945 1768.5M1368.6 1044L1786.9 1768.5M1377 1044L958.7 1768.5M1382.2 1044L1800.5 1768.5M1390.7 1044L972.4 1768.5M1395.9 1044L1814.2 1768.5M1404.3 1044L986 1768.5M1409.5 1044L1827.8 1768.5M1418 1044L999.7 1768.5M1423.2 1044L1841.5 1768.5M1431.6 1044L1013.3 1768.5M1436.9 1044L1855.2 1768.5M1445.3 1044L1027 1768.5M1450.5 1044L1868.8 1768.5M1459 1044L1040.7 1768.5M1464.2 1044L1882.5 1768.5M1472.6 1044L1054.3 1768.5M1477.8 1044L1896.1 1768.5M1486.3 1044L1068 1768.5M1491.5 1044L1909.8 1768.5M1499.9 1044L1081.6 1768.5M1505.2 1044L1923.5 1768.5M1513.6 1044L1095.3 1768.5M1518.8 1044L1937.1 1768.5M1527.3 1044L1109 1768.5M1532.5 1044L1950.8 1768.5M1540.9 1044L1122.6 1768.5M1546.1 1044L1964.4 1768.5M1554.6 1044L1136.3 1768.5M1559.8 1044L1978.1 1768.5M1568.2 1044L1149.9 1768.5M1573.5 1044L1991.8 1768.5M1581.9 1044L1163.6 1768.5M1587.1 1044L2005.4 1768.5M1595.6 1044L1177.3 1768.5M1600.8 1044L2019.1 1768.5M1609.2 1044L1190.9 1768.5M1614.4 1044L2032.7 1768.5M1622.9 1044L1204.6 1768.5M1628.1 1044L2046.4 1768.5M1636.5 1044L1218.2 1768.5M1641.8 1044L2060.1 1768.5M1650.2 1044L1231.9 1768.5M1655.4 1044L2073.7 1768.5M1663.9 1044L1245.6 1768.5M1669.1 1044L2087.4 1768.5M1677.5 1044L1259.2 1768.5M1682.7 1044L2101 1768.5M1691.2 1044L1272.9 1768.5M1696.4 1044L2114.7 1768.5M1704.8 1044L1286.5 1768.5M1710.1 1044L2128.4 1768.5M1718.5 1044L1300.2 1768.5M1723.7 1044L2142 1768.5M1732.2 1044L1313.9 1768.5M1737.4 1044L2155.7 1768.5M1745.8 1044L1327.5 1768.5M1751 1044L2169.3 1768.5M1759.5 1044L1341.2 1768.5M1764.7 1044L2183 1768.5M1773.1 1044L1354.8 1768.5M1778.4 1044L2196.7 1768.5M1786.8 1044L1368.5 1768.5M1792 1044L2210.3 1768.5M1800.5 1044L1382.2 1768.5M1805.7 1044L2224 1768.5M1814.1 1044L1395.8 1768.5M1819.3 1044L2237.6 1768.5M1827.8 1044L1409.5 1768.5M1833 1044L2251.3 1768.5M1841.4 1044L1423.1 1768.5M1846.7 1044L2265 1768.5M1855.1 1044L1436.8 1768.5M1860.3 1044L2278.6 1768.5M1868.8 1044L1450.5 1768.5M1874 1044L2292.3 1768.5M1882.4 1044L1464.1 1768.5M1887.6 1044L2305.9 1768.5M1896.1 1044L1477.8 1768.5M1901.3 1044L2319.6 1768.5M1909.7 1044L1491.4 1768.5M1915 1044L2333.3 1768.5M1923.4 1044L1505.1 1768.5M1928.6 1044L2346.9 1768.5M1937.1 1044L1518.8 1768.5M1942.3 1044L2360.6 1768.5M1950.7 1044L1532.4 1768.5M1955.9 1044L2374.2 1768.5M1964.4 1044L1546.1 1768.5M1969.6 1044L2387.9 1768.5M1978 1044L1559.7 1768.5M1983.3 1044L2401.6 1768.5M1991.7 1044L1573.4 1768.5M1996.9 1044L2415.2 1768.5M2005.4 1044L1587.1 1768.5M2010.6 1044L2428.9 1768.5M2019 1044L1600.7 1768.5M2024.2 1044L2442.5 1768.5M2032.7 1044L1614.4 1768.5M2037.9 1044L2456.2 1768.5M2046.3 1044L1628 1768.5M2051.6 1044L2469.9 1768.5M2060 1044L1641.7 1768.5M2065.2 1044L2483.5 1768.5M2073.7 1044L1655.4 1768.5M2078.9 1044L2497.2 1768.5M2087.3 1044L1669 1768.5M2092.5 1044L2510.8 1768.5M2101 1044L1682.7 1768.5M2106.2 1044L2524.5 1768.5M2114.6 1044L1696.3 1768.5M2119.9 1044L2538.2 1768.5M2128.3 1044L1710 1768.5M2133.5 1044L2551.8 1768.5M2142 1044L1723.7 1768.5M2147.2 1044L2565.5 1768.5M2155.6 1044L1737.3 1768.5M2160.8 1044L2579.1 1768.5M2169.3 1044L1751 1768.5M2174.5 1044L2592.8 1768.5M2182.9 1044L1764.6 1768.5M2188.2 1044L2606.5 1768.5M2196.6 1044L1778.3 1768.5M2201.8 1044L2620.1 1768.5M2210.3 1044L1792 1768.5M2215.5 1044L2633.8 1768.5M2223.9 1044L1805.6 1768.5M2229.1 1044L2647.4 1768.5M2237.6 1044L1819.3 1768.5M2242.8 1044L2661.1 1768.5M2251.2 1044L1832.9 1768.5M2256.5 1044L2674.8 1768.5M2264.9 1044L1846.6 1768.5M2270.1 1044L2688.4 1768.5M2278.6 1044L1860.3 1768.5M2283.8 1044L2702.1 1768.5M2292.2 1044L1873.9 1768.5M2297.4 1044L2715.7 1768.5M2305.9 1044L1887.6 1768.5M2311.1 1044L2729.4 1768.5M2319.5 1044L1901.2 1768.5M2324.8 1044L2743.1 1768.5M2333.2 1044L1914.9 1768.5M2338.4 1044L2756.7 1768.5M2346.9 1044L1928.6 1768.5M2352.1 1044L2770.4 1768.5M2360.5 1044L1942.2 1768.5M2365.7 1044L2784 1768.5M2374.2 1044L1955.9 1768.5M2379.4 1044L2797.7 1768.5M2387.8 1044L1969.5 1768.5M2393.1 1044L2811.4 1768.5M2401.5 1044L1983.2 1768.5M2406.7 1044L2825 1768.5M2415.2 1044L1996.9 1768.5M2420.4 1044L2838.7 1768.5M2428.8 1044L2010.5 1768.5M2434 1044L2852.3 1768.5M2442.5 1044L2024.2 1768.5M2447.7 1044L2866 1768.5M2456.1 1044L2037.8 1768.5M2461.4 1044L2879.7 1768.5M2469.8 1044L2051.5 1768.5M2475 1044L2893.3 1768.5M2483.5 1044L2065.2 1768.5M2488.7 1044L2907 1768.5M2497.1 1044L2078.8 1768.5M2502.3 1044L2920.6 1768.5M2510.8 1044L2092.5 1768.5M2516 1044L2934.3 1768.5M2524.4 1044L2106.1 1768.5M2529.7 1044L2948 1768.5M2538.1 1044L2119.8 1768.5M2543.3 1044L2961.6 1768.5M2551.8 1044L2133.5 1768.5M2557 1044L2975.3 1768.5M2565.4 1044L2147.1 1768.5M2570.6 1044L2988.9 1768.5M2579.1 1044L2160.8 1768.5M2584.3 1044L3002.6 1768.5M2592.7 1044L2174.4 1768.5M2598 1044L3016.3 1768.5M2606.4 1044L2188.1 1768.5M2611.6 1044L3029.9 1768.5M2620.1 1044L2201.8 1768.5M2625.3 1044L3043.6 1768.5M2633.7 1044L2215.4 1768.5M2638.9 1044L3057.2 1768.5M2647.4 1044L2229.1 1768.5M2652.6 1044L3070.9 1768.5M2661 1044L2242.7 1768.5M2666.3 1044L3084.6 1768.5M2674.7 1044L2256.4 1768.5M2679.9 1044L3098.2 1768.5M2688.4 1044L2270.1 1768.5M2693.6 1044L3111.9 1768.5M2702 1044L2283.7 1768.5M2707.2 1044L3125.5 1768.5M2715.7 1044L2297.4 1768.5M2720.9 1044L3139.2 1768.5M2729.3 1044L2311 1768.5M2734.6 1044L3152.9 1768.5M2743 1044L2324.7 1768.5M2748.2 1044L3166.5 1768.5M2756.7 1044L2338.4 1768.5M2761.9 1044L3180.2 1768.5M2770.3 1044L2352 1768.5M2775.5 1044L3193.8 1768.5M2784 1044L2365.7 1768.5M2789.2 1044L3207.5 1768.5M2797.6 1044L2379.3 1768.5M2802.9 1044L3221.2 1768.5M2811.3 1044L2393 1768.5M2816.5 1044L3234.8 1768.5M2825 1044L2406.7 1768.5M2830.2 1044L3248.5 1768.5M2838.6 1044L2420.3 1768.5M2843.8 1044L3262.1 1768.5M2852.3 1044L2434 1768.5M2857.5 1044L3275.8 1768.5M2865.9 1044L2447.6 1768.5M2871.2 1044L3289.5 1768.5M2879.6 1044L2461.3 1768.5M2884.8 1044L3303.1 1768.5M2893.3 1044L2475 1768.5M2898.5 1044L3316.8 1768.5M2906.9 1044L2488.6 1768.5M2912.1 1044L3330.4 1768.5M2920.6 1044L2502.3 1768.5M2925.8 1044L3344.1 1768.5M2934.2 1044L2515.9 1768.5M2939.5 1044L3357.8 1768.5M2947.9 1044L2529.6 1768.5M2953.1 1044L3371.4 1768.5M2961.6 1044L2543.3 1768.5M2966.8 1044L3385.1 1768.5M2975.2 1044L2556.9 1768.5M2980.4 1044L3398.7 1768.5M2988.9 1044L2570.6 1768.5M2994.1 1044L3412.4 1768.5M3002.5 1044L2584.2 1768.5M3007.8 1044L3426.1 1768.5M3016.2 1044L2597.9 1768.5M3021.4 1044L3439.7 1768.5M3029.9 1044L2611.6 1768.5M3035.1 1044L3453.4 1768.5M3043.5 1044L2625.2 1768.5M3048.7 1044L3467 1768.5M3057.2 1044L2638.9 1768.5M3062.4 1044L3480.7 1768.5M3070.8 1044L2652.5 1768.5M3076.1 1044L3494.4 1768.5M3084.5 1044L2666.2 1768.5"/>
<path d="M293 1044L2641 1044L2641 1768L293 1768ZM452 1044L452 1768.5M2482 1044L2482 1768.5M451.5 1201L2482.5 1201M451.5 1611L2482.5 1611M470 1201L470 1611M598 1201L598 1611" stroke-width="2"/>
<path d="M460.5 1201L460.5 1611M466.5 1288.5L475 1288.5M466.5 1296.5L475 1296.5M466.5 1510.5L475 1510.5M466.5 1520.5L475 1520.5M950.5 1226.5L975.5 1226.5L975.5 1230.5L950.5 1230.5ZM956.5 1227L956.5 1230.5M969.5 1227L969.5 1230.5M1806.5 1226.5L1831.5 1226.5L1831.5 1230.5L1806.5 1230.5ZM1812.5 1227L1812.5 1230.5M1825.5 1227L1825.5 1230.5M950.5 1315.5L975.5 1315.5L975.5 1319.5L950.5 1319.5ZM956.5 1315.5L956.5 1319M969.5 1315.5L969.5 1319M1806.5 1315.5L1831.5 1315.5L1831.5 1319.5L1806.5 1319.5ZM1812.5 1315.5L1812.5 1319M1825.5 1315.5L1825.5 1319M950.5 1403.5L975.5 1403.5L975.5 1407.5L950.5 1407.5ZM956.5 1404L956.5 1407.5M969.5 1404L969.5 1407.5M1806.5 1403.5L1831.5 1403.5L1831.5 1407.5L1806.5 1407.5ZM1812.5 1404L1812.5 1407.5M1825.5 1404L1825.5 1407.5M950.5 1492.5L975.5 1492.5L975.5 1495.5L950.5 1495.5ZM956.5 1492.2L956.5 1495.8M969.5 1492.2L969.5 1495.8M1806.5 1492.5L1831.5 1492.5L1831.5 1495.5L1806.5 1495.5ZM1812.5 1492.2L1812.5 1495.8M1825.5 1492.2L1825.5 1495.8M950.5 1580.5L975.5 1580.5L975.5 1584.5L950.5 1584.5ZM956.5 1580.7L956.5 1584.3M969.5 1580.7L969.5 1584.3M1806.5 1580.5L1831.5 1580.5L1831.5 1584.5L1806.5 1584.5ZM1812.5 1580.7L1812.5 1584.3M1825.5 1580.7L1825.5 1584.3M1596.5 1242.5L1596.5 1303.5M2420.5 1242.5L2420.5 1303.5M2425.5 1242.5L2425.5 1303.5M2430.5 1242.5L2430.5 1303.5M2436.5 1242.5L2436.5 1303.5M2441.5 1242.5L2441.5 1303.5" stroke-width="1"/>
<path d="M599 1207.5L599 1260M599 1551L599 1605" stroke-width="2.2"/>
<path d="M466 1280L475 1280L475 1310L466 1310ZM466 1500L475 1500L475 1532L466 1532ZM726 1215L726 1242.5M726 1303.5L726 1331M726 1392.5L726 1419M726 1480.5L726 1507.5M726 1569L726 1596M704 1242.5L704 1303.5M730 1242.5L730 1303.5M734 1242.5L734 1303.5M821 1242.5L821 1303.5M876 1242.5L876 1303.5M2408 1242.5L2408 1303.5M2448 1244L2470 1244L2470 1302L2448 1302ZM705 1269L712 1269L712 1278L705 1278Z" stroke-width="1.7"/>
<path d="M598.5 1215L2447.5 1215M598.5 1242L2447.5 1242M598.5 1304L2447.5 1304M598.5 1331L2447.5 1331M598.5 1392L2447.5 1392M598.5 1419L2447.5 1419M598.5 1480L2447.5 1480M598.5 1508L2447.5 1508M598.5 1569L2447.5 1569M598.5 1596L2447.5 1596" stroke-width="2.4"/>
<path d="M2448 1215L2448 1242.5M2448 1303.5L2448 1331M2448 1392.5L2448 1419M2448 1480.5L2448 1507.5M2448 1569L2448 1596" stroke-width="1.8"/>
<path d="M768 1272L2418 1272M768 1275L2418 1275" stroke-width="1.5"/>
<circle cx="708.5" cy="1273.5" r="2.3" stroke-width="2" fill="none"/>
<path d="M720 1267L725 1267L725 1280L720 1280ZM725 1271L752 1271M725 1276L752 1276" stroke-width="1.5"/>
<path d="M744 1268.5L756 1268.5L760 1273.5L756 1278.5L744 1278.5" stroke-width="1.7"/>
<path d="M748 1270L758 1270M748 1276L758 1276" stroke-width="2"/>
<circle cx="682" cy="1273.5" r="2" stroke-width="2" fill="none"/>
<path d="M688 1264L692 1264M688 1282L692 1282M2430 1272L2452 1272M2430 1276L2452 1276M2449 1267L2454 1267L2454 1280L2449 1280Z" stroke-width="1.5"/>
<path d="M2430 1268.5L2420 1268.5L2416 1273.5L2420 1278.5L2430 1278.5" stroke-width="1.7"/>
<path d="M2418 1270L2428 1270M2418 1276L2428 1276" stroke-width="2"/>
<circle cx="2467" cy="1273.5" r="3" stroke-width="2.5" fill="none"/>
<path d="M1950.5 1275.2L1950.5 1277.5M1956.5 1275.2L1956.5 1277.5M1968.5 1275.2L1968.5 1277.5M1806.5 1275.2L1806.5 1277.5M1812.5 1275.2L1812.5 1277.5M1824.5 1275.2L1824.5 1277.5M1596.5 1331L1596.5 1392.5M2420.5 1331L2420.5 1392.5M2425.5 1331L2425.5 1392.5M2430.5 1331L2430.5 1392.5M2436.5 1331L2436.5 1392.5M2441.5 1331L2441.5 1392.5" stroke-width="1"/>
<path d="M768 1360L2418 1360M768 1363L2418 1363" stroke-width="1.5"/>
<path d="M704 1331L704 1392.5M730 1331L730 1392.5M734 1331L734 1392.5M821 1331L821 1392.5M876 1331L876 1392.5M2408 1331L2408 1392.5M2448 1332L2470 1332L2470 1392L2448 1392ZM705 1357L712 1357L712 1366L705 1366Z" stroke-width="1.7"/>
<circle cx="708.5" cy="1361.5" r="2.3" stroke-width="2" fill="none"/>
<path d="M720 1355L725 1355L725 1368L720 1368ZM725 1359L752 1359M725 1364L752 1364" stroke-width="1.5"/>
<path d="M744 1356.5L756 1356.5L760 1361.5L756 1366.5L744 1366.5" stroke-width="1.7"/>
<path d="M748 1358L758 1358M748 1364L758 1364" stroke-width="2"/>
<circle cx="682" cy="1361.5" r="2" stroke-width="2" fill="none"/>
<path d="M688 1352L692 1352M688 1370L692 1370M2430 1360L2452 1360M2430 1364L2452 1364M2449 1355L2454 1355L2454 1368L2449 1368Z" stroke-width="1.5"/>
<path d="M2430 1356.5L2420 1356.5L2416 1361.5L2420 1366.5L2430 1366.5" stroke-width="1.7"/>
<path d="M2418 1358L2428 1358M2418 1364L2428 1364" stroke-width="2"/>
<circle cx="2467" cy="1361.5" r="3" stroke-width="2.5" fill="none"/>
<path d="M1950.5 1363.2L1950.5 1365.5M1956.5 1363.2L1956.5 1365.5M1968.5 1363.2L1968.5 1365.5M1806.5 1363.2L1806.5 1365.5M1812.5 1363.2L1812.5 1365.5M1824.5 1363.2L1824.5 1365.5M1596.5 1419L1596.5 1480.5M2420.5 1419L2420.5 1480.5M2425.5 1419L2425.5 1480.5M2430.5 1419L2430.5 1480.5M2436.5 1419L2436.5 1480.5M2441.5 1419L2441.5 1480.5" stroke-width="1"/>
<path d="M768 1448L2418 1448M768 1452L2418 1452" stroke-width="1.5"/>
<path d="M704 1419L704 1480.5M730 1419L730 1480.5M734 1419L734 1480.5M821 1419L821 1480.5M876 1419L876 1480.5M2408 1419L2408 1480.5M2448 1420L2470 1420L2470 1480L2448 1480ZM705 1446L712 1446L712 1454L705 1454Z" stroke-width="1.7"/>
<circle cx="708.5" cy="1450" r="2.3" stroke-width="2" fill="none"/>
<path d="M720 1444L725 1444L725 1456L720 1456ZM725 1448L752 1448M725 1452L752 1452" stroke-width="1.5"/>
<path d="M744 1445L756 1445L760 1450L756 1455L744 1455" stroke-width="1.7"/>
<path d="M748 1447L758 1447M748 1453L758 1453" stroke-width="2"/>
<circle cx="682" cy="1450" r="2" stroke-width="2" fill="none"/>
<path d="M688 1441L692 1441M688 1459L692 1459M2430 1448L2452 1448M2430 1452L2452 1452M2449 1444L2454 1444L2454 1456L2449 1456Z" stroke-width="1.5"/>
<path d="M2430 1445L2420 1445L2416 1450L2420 1455L2430 1455" stroke-width="1.7"/>
<path d="M2418 1447L2428 1447M2418 1453L2428 1453" stroke-width="2"/>
<circle cx="2467" cy="1450" r="3" stroke-width="2.5" fill="none"/>
<path d="M1950.5 1451.7L1950.5 1454M1956.5 1451.7L1956.5 1454M1968.5 1451.7L1968.5 1454M1806.5 1451.7L1806.5 1454M1812.5 1451.7L1812.5 1454M1824.5 1451.7L1824.5 1454M1596.5 1507.5L1596.5 1569M2420.5 1507.5L2420.5 1569M2425.5 1507.5L2425.5 1569M2430.5 1507.5L2430.5 1569M2436.5 1507.5L2436.5 1569M2441.5 1507.5L2441.5 1569" stroke-width="1"/>
<path d="M768 1536L2418 1536M768 1540L2418 1540" stroke-width="1.5"/>
<path d="M704 1507.5L704 1569M730 1507.5L730 1569M734 1507.5L734 1569M821 1507.5L821 1569M876 1507.5L876 1569M2408 1507.5L2408 1569M2448 1508L2470 1508L2470 1568L2448 1568ZM705 1534L712 1534L712 1542L705 1542Z" stroke-width="1.7"/>
<circle cx="708.5" cy="1538" r="2.3" stroke-width="2" fill="none"/>
<path d="M720 1532L725 1532L725 1544L720 1544ZM725 1536L752 1536M725 1540L752 1540" stroke-width="1.5"/>
<path d="M744 1533L756 1533L760 1538L756 1543L744 1543" stroke-width="1.7"/>
<path d="M748 1535L758 1535M748 1541L758 1541" stroke-width="2"/>
<circle cx="682" cy="1538" r="2" stroke-width="2" fill="none"/>
<path d="M688 1529L692 1529M688 1547L692 1547M2430 1536L2452 1536M2430 1540L2452 1540M2449 1532L2454 1532L2454 1544L2449 1544Z" stroke-width="1.5"/>
<path d="M2430 1533L2420 1533L2416 1538L2420 1543L2430 1543" stroke-width="1.7"/>
<path d="M2418 1535L2428 1535M2418 1541L2428 1541" stroke-width="2"/>
<circle cx="2467" cy="1538" r="3" stroke-width="2.5" fill="none"/>
<path d="M1950.5 1539.7L1950.5 1542M1956.5 1539.7L1956.5 1542M1968.5 1539.7L1968.5 1542M1806.5 1539.7L1806.5 1542M1812.5 1539.7L1812.5 1542M1824.5 1539.7L1824.5 1542M2475.5 1215L2475.5 1596M2447.5 1215.5L2482.5 1215.5M2447.5 1596.5L2482.5 1596.5" stroke-width="1"/>
<path d="M2470 1215L2470 1596" stroke-width="1.7"/>
<path d="M620.8 1213L624.2 1213L624.2 1598L620.8 1598Z" fill="#fff" stroke="#000" stroke-width="1.5"/>
<path d="M618 1210L627 1210L627 1215L618 1215ZM618 1596L627 1596L627 1600L618 1600Z" stroke-width="1.5"/>
<path d="M615.5 1225.5L629.5 1225.5L629.5 1230.5L615.5 1230.5Z" fill="#fff" stroke="#000" stroke-width="1.7"/>
<path d="M619 1223L626 1223L626 1233L619 1233Z" stroke-width="1.5"/>
<path d="M615.5 1580.5L629.5 1580.5L629.5 1585.5L615.5 1585.5Z" fill="#fff" stroke="#000" stroke-width="1.7"/>
<path d="M619 1578L626 1578L626 1588L619 1588Z" stroke-width="1.5"/>
<path d="M683.3 1213L686.7 1213L686.7 1598L683.3 1598Z" fill="#fff" stroke="#000" stroke-width="1.5"/>
<path d="M680 1210L690 1210L690 1215L680 1215ZM680 1596L690 1596L690 1600L680 1600Z" stroke-width="1.5"/>
<path d="M678 1225.5L692 1225.5L692 1230.5L678 1230.5Z" fill="#fff" stroke="#000" stroke-width="1.7"/>
<path d="M682 1223L688 1223L688 1233L682 1233Z" stroke-width="1.5"/>
<path d="M678 1580.5L692 1580.5L692 1585.5L678 1585.5Z" fill="#fff" stroke="#000" stroke-width="1.7"/>
<path d="M682 1578L688 1578L688 1588L682 1588Z" stroke-width="1.5"/>
<path d="M764.3 1213L767.7 1213L767.7 1598L764.3 1598Z" fill="#fff" stroke="#000" stroke-width="1.5"/>
<path d="M762 1210L770 1210L770 1215L762 1215ZM762 1596L770 1596L770 1600L762 1600Z" stroke-width="1.5"/>
<path d="M759 1225.5L773 1225.5L773 1230.5L759 1230.5Z" fill="#fff" stroke="#000" stroke-width="1.7"/>
<path d="M762 1223L770 1223L770 1233L762 1233Z" stroke-width="1.5"/>
<path d="M759 1580.5L773 1580.5L773 1585.5L759 1585.5Z" fill="#fff" stroke="#000" stroke-width="1.7"/>
<path d="M762 1578L770 1578L770 1588L762 1588Z" stroke-width="1.5"/>
<path d="M1173.3 1213L1176.7 1213L1176.7 1598L1173.3 1598Z" fill="#fff" stroke="#000" stroke-width="1.5"/>
<path d="M1170 1210L1180 1210L1180 1215L1170 1215ZM1170 1596L1180 1596L1180 1600L1170 1600Z" stroke-width="1.5"/>
<path d="M1168 1225.5L1182 1225.5L1182 1230.5L1168 1230.5Z" fill="#fff" stroke="#000" stroke-width="1.7"/>
<path d="M1172 1223L1178 1223L1178 1233L1172 1233Z" stroke-width="1.5"/>
<path d="M1168 1580.5L1182 1580.5L1182 1585.5L1168 1585.5Z" fill="#fff" stroke="#000" stroke-width="1.7"/>
<path d="M1172 1578L1178 1578L1178 1588L1172 1588Z" stroke-width="1.5"/>
<path d="M1583.3 1213L1586.7 1213L1586.7 1598L1583.3 1598Z" fill="#fff" stroke="#000" stroke-width="1.5"/>
<path d="M1580 1210L1590 1210L1590 1215L1580 1215ZM1580 1596L1590 1596L1590 1600L1580 1600Z" stroke-width="1.5"/>
<path d="M1578 1225.5L1592 1225.5L1592 1230.5L1578 1230.5Z" fill="#fff" stroke="#000" stroke-width="1.7"/>
<path d="M1582 1223L1588 1223L1588 1233L1582 1233Z" stroke-width="1.5"/>
<path d="M1578 1580.5L1592 1580.5L1592 1585.5L1578 1585.5Z" fill="#fff" stroke="#000" stroke-width="1.7"/>
<path d="M1582 1578L1588 1578L1588 1588L1582 1588Z" stroke-width="1.5"/>
<path d="M1992.3 1213L1995.7 1213L1995.7 1598L1992.3 1598Z" fill="#fff" stroke="#000" stroke-width="1.5"/>
<path d="M1990 1210L1998 1210L1998 1215L1990 1215ZM1990 1596L1998 1596L1998 1600L1990 1600Z" stroke-width="1.5"/>
<path d="M1987 1225.5L2001 1225.5L2001 1230.5L1987 1230.5Z" fill="#fff" stroke="#000" stroke-width="1.7"/>
<path d="M1990 1223L1998 1223L1998 1233L1990 1233Z" stroke-width="1.5"/>
<path d="M1987 1580.5L2001 1580.5L2001 1585.5L1987 1585.5Z" fill="#fff" stroke="#000" stroke-width="1.7"/>
<path d="M1990 1578L1998 1578L1998 1588L1990 1588Z" stroke-width="1.5"/>
<path d="M2401.8 1213L2405.2 1213L2405.2 1598L2401.8 1598Z" fill="#fff" stroke="#000" stroke-width="1.5"/>
<path d="M2399 1210L2408 1210L2408 1215L2399 1215ZM2399 1596L2408 1596L2408 1600L2399 1600Z" stroke-width="1.5"/>
<path d="M2396.5 1225.5L2410.5 1225.5L2410.5 1230.5L2396.5 1230.5Z" fill="#fff" stroke="#000" stroke-width="1.7"/>
<path d="M2400 1223L2407 1223L2407 1233L2400 1233Z" stroke-width="1.5"/>
<path d="M2396.5 1580.5L2410.5 1580.5L2410.5 1585.5L2396.5 1585.5Z" fill="#fff" stroke="#000" stroke-width="1.7"/>
<path d="M2400 1578L2407 1578L2407 1588L2400 1588ZM630 1226L662 1226L662 1230L630 1230ZM630 1580L662 1580L662 1586L630 1586ZM692 1226L724 1226L724 1230L692 1230ZM692 1580L724 1580L724 1586L692 1586Z" stroke-width="1.5"/>
<path d="M612 1209L638 1209L638 1214L612 1214ZM612 1596L638 1596L638 1602L612 1602Z" stroke-width="1.7"/>
<path d="M1300 1213L1390 1213M1300 1598L1390 1598" stroke-width="2.2"/>
<circle cx="1323" cy="1212" r="2" stroke-width="1.5" fill="none"/>
<circle cx="1323" cy="1599" r="2" stroke-width="1.5" fill="none"/>
<path d="M1747.5 1213L1840 1213M1747.5 1598L1840 1598" stroke-width="2.2"/>
<circle cx="1771.8" cy="1212" r="2" stroke-width="1.5" fill="none"/>
<circle cx="1771.8" cy="1599" r="2" stroke-width="1.5" fill="none"/>
<path d="M2095 1213L2185 1213M2095 1598L2185 1598" stroke-width="2.2"/>
<circle cx="2118" cy="1212" r="2" stroke-width="1.5" fill="none"/>
<circle cx="2118" cy="1599" r="2" stroke-width="1.5" fill="none"/>
<path d="M817.5 1210.5L825.5 1210.5L825.5 1214.5L817.5 1214.5ZM817.5 1596.5L825.5 1596.5L825.5 1601.5L817.5 1601.5ZM888.5 1210.5L896.5 1210.5L896.5 1214.5L888.5 1214.5ZM888.5 1596.5L896.5 1596.5L896.5 1601.5L888.5 1601.5Z" stroke-width="1.4"/>
<path d="M1054 1169L1085 1169L1085 1214L1054 1214Z" fill="#fff" stroke="#000" stroke-width="1.8"/>
<path d="M1041.5 1214L1041.5 1201L1097.5 1201L1097.5 1214" stroke-width="1.7"/>
<circle cx="1048" cy="1205" r="1.8" stroke-width="1.7" fill="none"/>
<circle cx="1091" cy="1205" r="1.8" stroke-width="1.7" fill="none"/>
<path d="M1065 1172L1074 1172L1074 1190L1065 1190ZM1068 1190L1068 1210M1071 1190L1071 1210" stroke-width="1.5"/>
<path d="M1067 1174L1072 1174L1072 1183L1067 1183Z" stroke-width="1.6"/>
<path d="M1066.5 1208.5L1073.5 1208.5L1073.5 1213.5L1066.5 1213.5Z" stroke-width="1"/>
<path d="M1054 1642L1085 1642L1085 1597L1054 1597Z" fill="#fff" stroke="#000" stroke-width="1.8"/>
<path d="M1041.5 1597L1041.5 1610L1097.5 1610L1097.5 1597" stroke-width="1.7"/>
<circle cx="1048" cy="1606" r="1.8" stroke-width="1.7" fill="none"/>
<circle cx="1091" cy="1606" r="1.8" stroke-width="1.7" fill="none"/>
<path d="M1065 1639L1074 1639L1074 1621L1065 1621ZM1068 1621L1068 1601M1071 1621L1071 1601" stroke-width="1.5"/>
<path d="M1067 1637L1072 1637L1072 1628L1067 1628Z" stroke-width="1.6"/>
<path d="M1066.5 1603.5L1073.5 1603.5L1073.5 1598.5L1066.5 1598.5Z" stroke-width="1"/>
<path d="M1605 1169L1636 1169L1636 1214L1605 1214Z" fill="#fff" stroke="#000" stroke-width="1.8"/>
<path d="M1592.5 1214L1592.5 1201L1648.5 1201L1648.5 1214" stroke-width="1.7"/>
<circle cx="1599" cy="1205" r="1.8" stroke-width="1.7" fill="none"/>
<circle cx="1642" cy="1205" r="1.8" stroke-width="1.7" fill="none"/>
<path d="M1616 1172L1625 1172L1625 1190L1616 1190ZM1619 1190L1619 1210M1622 1190L1622 1210" stroke-width="1.5"/>
<path d="M1618 1174L1623 1174L1623 1183L1618 1183Z" stroke-width="1.6"/>
<path d="M1617.5 1208.5L1624.5 1208.5L1624.5 1213.5L1617.5 1213.5Z" stroke-width="1"/>
<path d="M1605 1642L1636 1642L1636 1597L1605 1597Z" fill="#fff" stroke="#000" stroke-width="1.8"/>
<path d="M1592.5 1597L1592.5 1610L1648.5 1610L1648.5 1597" stroke-width="1.7"/>
<circle cx="1599" cy="1606" r="1.8" stroke-width="1.7" fill="none"/>
<circle cx="1642" cy="1606" r="1.8" stroke-width="1.7" fill="none"/>
<path d="M1616 1639L1625 1639L1625 1621L1616 1621ZM1619 1621L1619 1601M1622 1621L1622 1601" stroke-width="1.5"/>
<path d="M1618 1637L1623 1637L1623 1628L1618 1628Z" stroke-width="1.6"/>
<path d="M1617.5 1603.5L1624.5 1603.5L1624.5 1598.5L1617.5 1598.5Z" stroke-width="1"/>
<path d="M1951 1169L1982 1169L1982 1214L1951 1214Z" fill="#fff" stroke="#000" stroke-width="1.8"/>
<path d="M1938.5 1214L1938.5 1201L1994.5 1201L1994.5 1214" stroke-width="1.7"/>
<circle cx="1945" cy="1205" r="1.8" stroke-width="1.7" fill="none"/>
<circle cx="1988" cy="1205" r="1.8" stroke-width="1.7" fill="none"/>
<path d="M1962 1172L1971 1172L1971 1190L1962 1190ZM1965 1190L1965 1210M1968 1190L1968 1210" stroke-width="1.5"/>
<path d="M1964 1174L1969 1174L1969 1183L1964 1183Z" stroke-width="1.6"/>
<path d="M1963.5 1208.5L1970.5 1208.5L1970.5 1213.5L1963.5 1213.5Z" stroke-width="1"/>
<path d="M1951 1642L1982 1642L1982 1597L1951 1597Z" fill="#fff" stroke="#000" stroke-width="1.8"/>
<path d="M1938.5 1597L1938.5 1610L1994.5 1610L1994.5 1597" stroke-width="1.7"/>
<circle cx="1945" cy="1606" r="1.8" stroke-width="1.7" fill="none"/>
<circle cx="1988" cy="1606" r="1.8" stroke-width="1.7" fill="none"/>
<path d="M1962 1639L1971 1639L1971 1621L1962 1621ZM1965 1621L1965 1601M1968 1621L1968 1601" stroke-width="1.5"/>
<path d="M1964 1637L1969 1637L1969 1628L1964 1628Z" stroke-width="1.6"/>
<path d="M1963.5 1603.5L1970.5 1603.5L1970.5 1598.5L1963.5 1598.5Z" stroke-width="1"/>
<path d="M2298.5 1169L2329.5 1169L2329.5 1214L2298.5 1214Z" fill="#fff" stroke="#000" stroke-width="1.8"/>
<path d="M2286 1214L2286 1201L2342 1201L2342 1214" stroke-width="1.7"/>
<circle cx="2292.5" cy="1205" r="1.8" stroke-width="1.7" fill="none"/>
<circle cx="2335.5" cy="1205" r="1.8" stroke-width="1.7" fill="none"/>
<path d="M2310 1172L2318 1172L2318 1190L2310 1190ZM2312 1190L2312 1210M2316 1190L2316 1210" stroke-width="1.5"/>
<path d="M2312 1174L2316 1174L2316 1183L2312 1183Z" stroke-width="1.6"/>
<path d="M2310.5 1208.5L2317.5 1208.5L2317.5 1213.5L2310.5 1213.5Z" stroke-width="1"/>
<path d="M2298.5 1642L2329.5 1642L2329.5 1597L2298.5 1597Z" fill="#fff" stroke="#000" stroke-width="1.8"/>
<path d="M2286 1597L2286 1610L2342 1610L2342 1597" stroke-width="1.7"/>
<circle cx="2292.5" cy="1606" r="1.8" stroke-width="1.7" fill="none"/>
<circle cx="2335.5" cy="1606" r="1.8" stroke-width="1.7" fill="none"/>
<path d="M2310 1639L2318 1639L2318 1621L2310 1621ZM2312 1621L2312 1601M2316 1621L2316 1601" stroke-width="1.5"/>
<path d="M2312 1637L2316 1637L2316 1628L2312 1628Z" stroke-width="1.6"/>
<path d="M2310.5 1603.5L2317.5 1603.5L2317.5 1598.5L2310.5 1598.5Z" stroke-width="1"/>
<rect x="455" y="1314" width="22" height="36" fill="#fff" stroke="none"/>
<path d="M477.5 1288L516.5 1288" stroke-width="2.5"/>
<path d="M480.5 1288L480.5 1346" stroke-width="1"/>
<path d="M480.5 1289L483.5 1315L477.5 1315Z" fill="#000" stroke="none"/>
<text transform="translate(462 1346) scale(0.62 1)" font-size="40" font-style="normal" text-anchor="middle" fill="#000" stroke="none">А</text>
<rect x="2534" y="1314" width="24" height="36" fill="#fff" stroke="none"/>
<path d="M2494 1288L2544 1288" stroke-width="2.5"/>
<path d="M2529.5 1288L2529.5 1348" stroke-width="1"/>
<path d="M2529 1289L2532 1315L2526 1315Z" fill="#000" stroke="none"/>
<text transform="translate(2546 1344) scale(0.62 1)" font-size="40" font-style="normal" text-anchor="middle" fill="#000" stroke="none">А</text>
<!-- section -->
<path d="M2829 1351L2976 1351M2829 1358L2974 1358M2829 1351L2829 1358.5M3137.5 1351L4808 1351M3135 1358L4808 1358M4808 1351L4808 1358.5" stroke-width="1.7"/>
<circle cx="4803" cy="1354.5" r="2" stroke-width="1.7" fill="none"/>
<path d="M2911 1351L2911 1328L2913 1326L2915 1328L2915 1351M2891 1358.5L2891 1362L2908 1362L2908 1352" stroke-width="1.5"/>
<path d="M3409 1359L3614 1501L3614 1530.5L3399 1382L3399 1366Z" fill="#fff" stroke="#000" stroke-width="2"/>
<path d="M3909 1359L3704 1501L3704 1530.5L3919 1382L3919 1366Z" fill="#fff" stroke="#000" stroke-width="2"/>
<path d="M3614 1565L3399 1713.5L3399 1745L3614 1593.5Z" fill="#fff" stroke="#000" stroke-width="2"/>
<path d="M3704 1565L3919 1713.5L3919 1744L3704 1593.5Z" fill="#fff" stroke="#000" stroke-width="2"/>
<path d="M3614 1501L3704 1501L3704 1593.5L3614 1593.5Z" fill="#fff" stroke="#000" stroke-width="2"/>
<path d="M3950 1303L4090.5 1497L4061.5 1497L3950 1348Z" fill="#fff" stroke="#000" stroke-width="2"/>
<path d="M4265 1303L4125.5 1497L4153.5 1497L4265 1348Z" fill="#fff" stroke="#000" stroke-width="2"/>
<path d="M4061.5 1586.5L3950 1737L3950 1780L4090.5 1586.5Z" fill="#fff" stroke="#000" stroke-width="2"/>
<path d="M4153.5 1586.5L4265 1737L4265 1779L4125.5 1586.5Z" fill="#fff" stroke="#000" stroke-width="2"/>
<path d="M4061.5 1497L4153.5 1497L4153.5 1586.5L4061.5 1586.5Z" fill="#fff" stroke="#000" stroke-width="2"/>
<path d="M4296.5 1303L4438 1497L4409 1497L4296.5 1348Z" fill="#fff" stroke="#000" stroke-width="2"/>
<path d="M4612.5 1303L4471 1497L4499 1497L4612.5 1348Z" fill="#fff" stroke="#000" stroke-width="2"/>
<path d="M4409 1586.5L4296.5 1737L4296.5 1780L4438 1586.5Z" fill="#fff" stroke="#000" stroke-width="2"/>
<path d="M4499 1586.5L4612.5 1737L4612.5 1779L4471 1586.5Z" fill="#fff" stroke="#000" stroke-width="2"/>
<path d="M4409 1497L4499 1497L4499 1586.5L4409 1586.5Z" fill="#fff" stroke="#000" stroke-width="2"/>
<path d="M3368 1358.5L3399 1358.5L3399 1807.5L3368 1807.5Z" fill="#fff" stroke="#000" stroke-width="2"/>
<path d="M3384 1358.5L3384 1807.5M3356 1808L3412 1808L3412 1811L3356 1811Z" stroke-width="2"/>
<path d="M3368 1303.5L3399 1303.5L3399 1350L3368 1350Z" fill="#fff" stroke="#000" stroke-width="2"/>
<rect x="3371" y="1523" width="25" height="166" rx="2" stroke-width="1.8"/>
<rect x="3373" y="1524.5" width="21" height="80" rx="6" stroke-width="1.8"/>
<path d="M3371 1606L3396 1606" stroke-width="1.8"/>
<path d="M3919 1302.5L3950 1302.5L3950 1807.5L3919 1807.5Z" fill="#fff" stroke="#000" stroke-width="2"/>
<path d="M3935 1302.5L3935 1807.5M3906 1808L3962 1808L3962 1811L3906 1811Z" stroke-width="2"/>
<path d="M3919 1252.5L3950 1252.5L3950 1302.5L3919 1302.5Z" fill="#fff" stroke="#000" stroke-width="2"/>
<path d="M3920 1300.5L3949 1300.5" stroke-width="1"/>
<rect x="3922" y="1476" width="25" height="166" rx="2" stroke-width="1.8"/>
<rect x="3924" y="1477.5" width="21" height="80" rx="6" stroke-width="1.8"/>
<path d="M3922 1558L3947 1558" stroke-width="1.8"/>
<path d="M4265 1302.5L4296.5 1302.5L4296.5 1807.5L4265 1807.5Z" fill="#fff" stroke="#000" stroke-width="2"/>
<path d="M4282 1302.5L4282 1807.5M4252 1808L4309 1808L4309 1811L4252 1811Z" stroke-width="2"/>
<path d="M4265 1252.5L4296.5 1252.5L4296.5 1302.5L4265 1302.5Z" fill="#fff" stroke="#000" stroke-width="2"/>
<path d="M4266 1300.5L4295.5 1300.5" stroke-width="1"/>
<rect x="4268" y="1476" width="25" height="166" rx="2" stroke-width="1.8"/>
<rect x="4270" y="1477.5" width="21" height="80" rx="6" stroke-width="1.8"/>
<path d="M4268 1558L4293 1558" stroke-width="1.8"/>
<path d="M4612.5 1302.5L4642.5 1302.5L4642.5 1807.5L4612.5 1807.5Z" fill="#fff" stroke="#000" stroke-width="2"/>
<path d="M4627 1302.5L4627 1807.5M4600 1808L4655 1808L4655 1811L4600 1811Z" stroke-width="2"/>
<path d="M4612.5 1252.5L4642.5 1252.5L4642.5 1302.5L4612.5 1302.5Z" fill="#fff" stroke="#000" stroke-width="2"/>
<path d="M4613.5 1300.5L4641.5 1300.5" stroke-width="1"/>
<rect x="4615.5" y="1476" width="25" height="166" rx="2" stroke-width="1.8"/>
<rect x="4617.5" y="1477.5" width="21" height="80" rx="6" stroke-width="1.8"/>
<path d="M4615.5 1558L4640.5 1558M4760 1808L4808 1808L4808 1812L4760 1812ZM2872.5 1752.5L2880 1767.5L2970 1770.5" stroke-width="1.8"/>
<path d="M4776 1358.5L4776 1808.5M4797 1358.5L4797 1808.5M3017.5 1188L4759.5 1188M3017.5 1190L2872.5 1752.5M3017.5 1190L3051 1190" stroke-width="2"/>
<path d="M4782 1372L4782 1808.5M4788 1358.5L4788 1808.5M4776 1372L4788 1372M4797 1497L4808 1486M4797 1503L4808 1492" stroke-width="1.7"/>
<path d="M3912 1254L4732 1254" stroke-width="2.2"/>
<path d="M3191 1315L3920 1253.5" stroke-width="2.6"/>
<path d="M3191 1315L3137.5 1356" stroke-width="2.8"/>
<path d="M3137.5 1356L2977.5 1745" stroke-width="2.4"/>
<path d="M3047.5 1190L2910 1735" stroke-width="1.6"/>
<path d="M3051 1190L2913.5 1735M2877 1748L2906 1757" stroke-width="1"/>
<path d="M2910 1735Q2904 1766 2934 1769L2952 1769Q2972 1768 2977.5 1745" stroke-width="1.8"/>
<path d="M2913.5 1735Q2908 1763 2936 1766L2952 1766Q2969 1765 2974.5 1745" stroke-width="1.0"/>
<circle cx="2902" cy="1764" r="4" stroke-width="2.2" fill="none"/>
<circle cx="2978" cy="1770" r="3.5" stroke-width="2.5" fill="none"/>
<path d="M2996.2 1272.5L3023.2 1279.5M2965.3 1392.5L2992.3 1399.5M2934.7 1511L2961.7 1518M2904.1 1630L2931.1 1637M3137.5 1367.5L3151 1372.5M3104 1442.5L3117.5 1447.5M3072.5 1520L3086 1525M3042.5 1596L3056 1601M3010 1671L3023.5 1676" stroke-width="2"/>
<path d="M3127 1398L3145.5 1405.5L3140.7 1417.5L3122.1 1410.1Z" stroke-width="1.8"/>
<circle cx="3137" cy="1410" r="2.5" stroke-width="1.5" fill="none"/>
<path d="M2984 1733L3004.4 1741.2L2999.5 1753.3L2979.1 1745.1Z" stroke-width="1.8"/>
<circle cx="2998" cy="1744" r="2.5" stroke-width="1.5" fill="none"/>
<path d="M3065 1540L3083.5 1547.5L3068.6 1584.6L3050 1577.1ZM3058 1558L3078 1566" stroke-width="1.8"/>
<path d="M2994 1220L3005.6 1223.1L2998.9 1248.2L2987.3 1245.1ZM2995 1222L3005 1222L3005 1232L2995 1232Z" stroke-width="1.7"/>
<circle cx="3000" cy="1227" r="2.2" stroke-width="1.4" fill="none"/>
<path d="M2931 1464L2942.6 1467.1L2938.2 1483.5L2926.6 1480.4Z" stroke-width="1.7"/>
<circle cx="2937" cy="1471" r="2.2" stroke-width="1.4" fill="none"/>
<path d="M2869 1708L2880.6 1711.1L2876.2 1727.5L2864.6 1724.4Z" stroke-width="1.7"/>
<circle cx="2875" cy="1714" r="2.2" stroke-width="1.4" fill="none"/>
<path d="M2928 1775L2952 1775L2952 1808L2928 1808ZM4079 1252L4119 1252L4119 1273L4079 1273ZM4099 1252.5L4099 1273M4379 1252L4419 1252L4419 1273L4379 1273ZM4399 1252.5L4399 1273M4678 1252L4718 1252L4718 1273L4678 1273ZM4698 1252.5L4698 1273M3704 1271.5L3704 1293.5L3744 1288L3744 1268M3724 1269.7L3724 1289.7M3234 1313L3234 1333L3274 1327.5L3274 1309.5M3254 1311.3L3254 1330.3" stroke-width="2"/>
<path d="M2910 1808L2966 1808L2966 1812L2910 1812ZM3018 1177L3031 1177L3031 1188L3018 1188ZM3279 1309.1L3279 1324.1M3359 1302L3359 1317M3440 1294.8L3440 1309.8M3522 1287.6L3522 1302.6M3604 1280.3L3604 1295.3M3686 1273.1L3686 1288.1M3767 1265.9L3767 1280.9M3849 1258.7L3849 1273.7M3965 1252.5L3965 1269M4052 1252.5L4052 1269M4139 1252.5L4139 1269M4225 1252.5L4225 1269M4312 1252.5L4312 1269M4486 1252.5L4486 1269M4572 1252.5L4572 1269M4658 1252.5L4658 1269" stroke-width="1.8"/>
<path d="M2912 1810L2964 1810M3031 1181L3066 1181M3031 1185L3066 1185M3036 1179L3050 1179L3050 1187L3036 1187Z" stroke-width="1.5"/>
<path d="M2949 1777L2949 1808M3066 1188L3066 1178L3072 1178L3072 1188M3196 1316.4L3196 1341.4L3212 1341.4L3212 1315" stroke-width="1.7"/>
<path d="M4079 1275.5L4119 1275.5M4379 1275.5L4419 1275.5M4678 1275.5L4718 1275.5" stroke-width="1"/>
<circle cx="3206" cy="1334.4" r="3" stroke-width="2.2"/>
<path d="M3626 1278.4L3626 1303.4L3642 1303.4L3642 1277" stroke-width="1.7"/>
<circle cx="3636" cy="1296.4" r="3" stroke-width="2.2"/>
<path d="M3266 1188.5L3266 1164.5L3271.5 1156.5L3283.5 1156.5L3289 1164.5L3289 1188.5" stroke-width="2"/>
<rect x="3274" y="1163.5" width="7" height="17" rx="3.5" stroke-width="1.8"/>
<path d="M4120.5 1188.5L4120.5 1164.5L4126 1156.5L4138 1156.5L4143.5 1164.5L4143.5 1188.5" stroke-width="2"/>
<rect x="4128.5" y="1163.5" width="7" height="17" rx="3.5" stroke-width="1.8"/>
<path d="M3073 1175.5L3073 1188.5L3087 1188.5L3087 1175.5" stroke-width="1.8"/>
<path d="M3077 1175.5L3077 1183.5L3083 1183.5L3083 1175.5" stroke-width="1.5"/>
<circle cx="3080" cy="1182.5" r="2.5" stroke-width="1.5" fill="none"/>
<path d="M3483 1175.5L3483 1188.5L3497 1188.5L3497 1175.5" stroke-width="1.8"/>
<path d="M3487 1175.5L3487 1183.5L3493 1183.5L3493 1175.5" stroke-width="1.5"/>
<circle cx="3490" cy="1182.5" r="2.5" stroke-width="1.5" fill="none"/>
<path d="M3892.5 1175.5L3892.5 1188.5L3906.5 1188.5L3906.5 1175.5" stroke-width="1.8"/>
<path d="M3896.5 1175.5L3896.5 1183.5L3902.5 1183.5L3902.5 1175.5" stroke-width="1.5"/>
<circle cx="3899.5" cy="1182.5" r="2.5" stroke-width="1.5" fill="none"/>
<path d="M4302.5 1175.5L4302.5 1188.5L4316.5 1188.5L4316.5 1175.5" stroke-width="1.8"/>
<path d="M4306.5 1175.5L4306.5 1183.5L4312.5 1183.5L4312.5 1175.5" stroke-width="1.5"/>
<circle cx="4309.5" cy="1182.5" r="2.5" stroke-width="1.5" fill="none"/>
<path d="M4711.5 1175.5L4711.5 1188.5L4725.5 1188.5L4725.5 1175.5" stroke-width="1.8"/>
<path d="M4715.5 1175.5L4715.5 1183.5L4721.5 1183.5L4721.5 1175.5" stroke-width="1.5"/>
<circle cx="4718.5" cy="1182.5" r="2.5" stroke-width="1.5" fill="none"/>
<path d="M4759.5 1189L4785 1189L4767 1262L4740 1253.5ZM4766 1175L4785 1175L4785 1188L4766 1188Z" stroke-width="1.8"/>
<path d="M4763 1189L4744 1256" stroke-width="2.4"/>
<path d="M4729 1177L4742 1177L4742 1187L4729 1187ZM4779 1213L4787 1215L4784 1229L4776 1227ZM4740 1253.5L4731 1256L4728 1262L4733 1267L4750 1268L4767 1262" stroke-width="1.7"/>
<path d="M4742 1181L4768 1181M4742 1184L4768 1184" stroke-width="1.5"/>
<path d="M4777 1177L4783 1177L4783 1185L4777 1185Z" stroke-width="2"/>
<circle cx="4733" cy="1260" r="4" stroke-width="2" fill="none"/>
<circle cx="4745" cy="1219" r="3" stroke-width="1.5" fill="none"/>
<path d="M3050 1071.5L4754.5 1071.5" stroke-width="1"/>
<path d="M3050 1071L3066 1068.6L3066 1073.4Z" fill="#000" stroke="none"/>
<path d="M4754.5 1071L4738.5 1073.4L4738.5 1068.6Z" fill="#000" stroke="none"/>
<path d="M3050.5 1065L3050.5 1105M3050.5 1122L3050.5 1188M4754.5 1064L4754.5 1190M3022 1128.5L4718.5 1128.5" stroke-width="1"/>
<path d="M3050 1128.5L3034 1130.9L3034 1126.1Z" fill="#000" stroke="none"/>
<path d="M3080 1128.5L3096 1126.1L3096 1130.9Z" fill="#000" stroke="none"/>
<path d="M3080 1128.5L3096 1126.1L3096 1130.9Z" fill="#000" stroke="none"/>
<path d="M3490 1128.5L3474 1130.9L3474 1126.1Z" fill="#000" stroke="none"/>
<path d="M3490 1128.5L3506 1126.1L3506 1130.9Z" fill="#000" stroke="none"/>
<path d="M3899.5 1128.5L3883.5 1130.9L3883.5 1126.1Z" fill="#000" stroke="none"/>
<path d="M3899.5 1128.5L3915.5 1126.1L3915.5 1130.9Z" fill="#000" stroke="none"/>
<path d="M4309.5 1128.5L4293.5 1130.9L4293.5 1126.1Z" fill="#000" stroke="none"/>
<path d="M4309.5 1128.5L4325.5 1126.1L4325.5 1130.9Z" fill="#000" stroke="none"/>
<path d="M4718.5 1128.5L4702.5 1130.9L4702.5 1126.1Z" fill="#000" stroke="none"/>
<path d="M3080.5 1122L3080.5 1176M3490.5 1122L3490.5 1176M3899.5 1122L3899.5 1176M4309.5 1122L4309.5 1176M4718.5 1122L4718.5 1176M3912 1227.5L4739.5 1227.5" stroke-width="1"/>
<path d="M3912 1227.5L3928 1225.1L3928 1229.9Z" fill="#000" stroke="none"/>
<path d="M4739.5 1227.5L4723.5 1229.9L4723.5 1225.1Z" fill="#000" stroke="none"/>
<path d="M3912.5 1220L3912.5 1253M4739.5 1220L4739.5 1253M3875.5 1188.5L3875.5 1253" stroke-width="1"/>
<path d="M3875.5 1188.5L3877.9 1204.5L3873.1 1204.5Z" fill="#000" stroke="none"/>
<path d="M3875.5 1253L3873.1 1237L3877.9 1237Z" fill="#000" stroke="none"/>
<path d="M3868 1253.5L3915 1253.5M3165.5 1188.5L3165.5 1314.5" stroke-width="1"/>
<path d="M3165 1188.5L3167.4 1204.5L3162.6 1204.5Z" fill="#000" stroke="none"/>
<path d="M3165 1314.5L3162.6 1298.5L3167.4 1298.5Z" fill="#000" stroke="none"/>
<path d="M3158 1315.5L3191 1315.5M2832.5 1137.5L2689 1702.5" stroke-width="1"/>
<path d="M2832.5 1137.5L2830.9 1153.6L2826.2 1152.4Z" fill="#000" stroke="none"/>
<path d="M2689 1702.5L2690.6 1686.4L2695.3 1687.6Z" fill="#000" stroke="none"/>
<path d="M2827.5 1132.5L3020 1180M2680 1700L2880 1754M2919 1160L2887.5 1290" stroke-width="1"/>
<path d="M2919 1160L2917.6 1176.1L2912.9 1175Z" fill="#000" stroke="none"/>
<path d="M2887.5 1290L2888.9 1273.9L2893.6 1275Z" fill="#000" stroke="none"/>
<path d="M2880 1292.5L3135 1356M2980 1175L2967.5 1225" stroke-width="1"/>
<path d="M2980 1175L2978 1188.9L2975.1 1188.2Z" fill="#000" stroke="none"/>
<path d="M2969.5 1217.5L2971.5 1203.6L2974.4 1204.3Z" fill="#000" stroke="none"/>
<path d="M2960 1222L3010 1235M2967.5 1225L2908.5 1460" stroke-width="1"/>
<path d="M2967.5 1225L2965.9 1241.1L2961.3 1239.9Z" fill="#000" stroke="none"/>
<path d="M2908.5 1460L2910.1 1443.9L2914.7 1445.1Z" fill="#000" stroke="none"/>
<path d="M2900 1458L2950 1471M2908.5 1460L2846 1707.5" stroke-width="1"/>
<path d="M2908.5 1460L2906.9 1476.1L2902.3 1474.9Z" fill="#000" stroke="none"/>
<path d="M2846 1707.5L2847.6 1691.4L2852.2 1692.6Z" fill="#000" stroke="none"/>
<path d="M2837 1705L2887 1718M3020 1307.5L3142.5 1337.5" stroke-width="1"/>
<path d="M3020 1307.5L3036.1 1309L3035 1313.6Z" fill="#000" stroke="none"/>
<path d="M3142.5 1337.5L3126.4 1336L3127.5 1331.4Z" fill="#000" stroke="none"/>
<path d="M2993.5 1408.5L3155 1447.5" stroke-width="1"/>
<path d="M2993.5 1408.5L3009.6 1409.9L3008.5 1414.6Z" fill="#000" stroke="none"/>
<path d="M3155 1447.5L3138.9 1446.1L3140 1441.4Z" fill="#000" stroke="none"/>
<path d="M3189 1315L3155 1455M3209 1367.5L3639 1329" stroke-width="1"/>
<path d="M3209 1367.5L3224.7 1363.7L3225.2 1368.5Z" fill="#000" stroke="none"/>
<path d="M3639 1329L3623.3 1332.8L3622.8 1328Z" fill="#000" stroke="none"/>
<path d="M3639 1329L3917.5 1306.5" stroke-width="1"/>
<path d="M3639 1329L3654.8 1325.3L3655.1 1330.1Z" fill="#000" stroke="none"/>
<path d="M3917.5 1306.5L3901.7 1310.2L3901.4 1305.4Z" fill="#000" stroke="none"/>
<path d="M3203 1308L3209 1372M3633 1280L3639 1336M3912 1257L3918 1312M2949 1134.5L2982.5 1134.5M2982.5 1134L2996 1226M3522.5 1159.5L3557.5 1159.5M3522.5 1159L3494 1186.5M3442.5 1155L3485 1186M3654 1161.5L3690 1161.5M3654 1161L3635 1287.5M3607.5 1320L3632.5 1280M2942.5 1735L2894 1818.5" stroke-width="1"/>
<path d="M2932 1753L2926.3 1765.9L2923.7 1764.4Z" fill="#000" stroke="none"/>
<path d="M4745 1219L4845 1245M4733 1262L4838 1273M4845 1217L4825 1297" stroke-width="1"/>
<path d="M4838 1244L4839.2 1230.9L4843.1 1231.9Z" fill="#000" stroke="none"/>
<path d="M4830.5 1272.5L4829.3 1285.6L4825.4 1284.6Z" fill="#000" stroke="none"/>
<path d="M4798.4 1235.5L4778.7 1312" stroke-width="1"/>
<path d="M4793.5 1257L4794.7 1243.9L4798.6 1244.9Z" fill="#000" stroke="none"/>
<path d="M4788.6 1265L4787.4 1278.1L4783.5 1277.1Z" fill="#000" stroke="none"/>
<path d="M4729.3 1265L4714.5 1324.3M4734.3 1265L4719.5 1325M4691 1310L4761 1329" stroke-width="1"/>
<path d="M4715.4 1317.8L4702.3 1316.6L4703.3 1312.7Z" fill="#000" stroke="none"/>
<path d="M4720 1319L4733.1 1320.2L4732.1 1324.1Z" fill="#000" stroke="none"/>
<!-- iso -->
<path d="M3621.9 723L3628.1 719.4L3691.9 756.1L3691.9 762.7Z" fill="#fff" stroke="#000" stroke-width="1.9"/>
<path d="M4658.9 125.5L4652.3 129.3L4588.9 238.7L4588.9 245.9Z" fill="#fff" stroke="#000" stroke-width="1.9"/>
<path d="M3976.1 518.9L4066.7 539.1L4066.7 554.2L3971.7 533.2L3971.7 525Z" fill="#fff" stroke="#000" stroke-width="1.9"/>
<path d="M4197 391.6L4106.4 516.2L4106.4 531.3L4201.4 400.8L4201.4 392.7Z" fill="#fff" stroke="#000" stroke-width="1.9"/>
<path d="M4066.7 571.8L3971.7 702.2L3971.7 718.3L4066.7 586.3Z" fill="#fff" stroke="#000" stroke-width="1.9"/>
<path d="M4106.4 548.9L4201.4 569.9L4201.4 585.5L4106.4 563.4Z" fill="#fff" stroke="#000" stroke-width="1.9"/>
<path d="M4218.6 379.2L4264.3 423.2L4277.1 415.8L4232.7 371Z" fill="#fff" stroke="#000" stroke-width="1.9"/>
<path d="M4350.7 303.1L4304.9 399.8L4292.6 406.9L4336.5 311.2Z" fill="#fff" stroke="#000" stroke-width="1.9"/>
<path d="M4264.3 468.9L4215.1 574L4215.1 595.9L4277.1 461.5Z" fill="#fff" stroke="#000" stroke-width="1.9"/>
<path d="M4304.9 445.5L4354.2 493.8L4354.2 515.3L4292.6 452.6Z" fill="#fff" stroke="#000" stroke-width="1.9"/>
<path d="M4371.6 291L4417.8 334.8L4430.6 327.4L4385.8 282.9Z" fill="#fff" stroke="#000" stroke-width="1.9"/>
<path d="M4504.1 214.7L4457.5 311.9L4445.2 319L4490 222.8Z" fill="#fff" stroke="#000" stroke-width="1.9"/>
<path d="M4417.8 380.4L4368.1 485.8L4368.1 507.8L4430.6 373.1Z" fill="#fff" stroke="#000" stroke-width="1.9"/>
<path d="M4457.5 357.5L4507.7 405.4L4507.7 426.8L4445.2 364.7Z" fill="#fff" stroke="#000" stroke-width="1.9"/>
<path d="M4064.9 585.3L4068.4 587.3L4068.4 540.2L4064.9 538.1Z" fill="#fff" stroke="#000" stroke-width="1.9"/>
<path d="M4068.4 587.3L4108.2 564.4L4108.2 517.3L4068.4 540.2Z" fill="#fff" stroke="#000" stroke-width="1.9"/>
<path d="M4064.9 538.1L4104.7 515.2L4108.2 517.3L4068.4 540.2Z" fill="#fff" stroke="#000" stroke-width="1.9"/>
<path d="M4262.5 467.8L4266.1 469.9L4266.1 424.2L4262.5 422.2Z" fill="#fff" stroke="#000" stroke-width="1.9"/>
<path d="M4266.1 469.9L4306.7 446.5L4306.7 400.8L4266.1 424.2Z" fill="#fff" stroke="#000" stroke-width="1.9"/>
<path d="M4262.5 422.2L4303.2 398.8L4306.7 400.8L4266.1 424.2Z" fill="#fff" stroke="#000" stroke-width="1.9"/>
<path d="M4416 379.4L4419.6 381.5L4419.6 335.8L4416 333.8Z" fill="#fff" stroke="#000" stroke-width="1.9"/>
<path d="M4419.6 381.5L4459.3 358.6L4459.3 312.9L4419.6 335.8Z" fill="#fff" stroke="#000" stroke-width="1.9"/>
<path d="M4416 333.8L4455.8 310.9L4459.3 312.9L4419.6 335.8Z" fill="#fff" stroke="#000" stroke-width="1.9"/>
<path d="M3621.3 637.3L3626.8 640.5L3690.5 750.5L3690.5 756.8Z" fill="#fff" stroke="#000" stroke-width="1.9"/>
<path d="M3889.9 482.5L3895.5 485.7L3959.1 595.8L3959.1 602Z" fill="#fff" stroke="#000" stroke-width="1.9"/>
<path d="M4133.3 342.3L4138.8 345.5L4202.5 455.5L4202.5 461.8Z" fill="#fff" stroke="#000" stroke-width="1.9"/>
<path d="M4286.2 254.2L4291.7 257.4L4355.4 367.4L4355.4 373.7Z" fill="#fff" stroke="#000" stroke-width="1.9"/>
<path d="M4439.4 165.9L4444.9 169.1L4508.5 279.2L4508.5 285.5Z" fill="#fff" stroke="#000" stroke-width="1.9"/>
<path d="M4509.8 125.3L4515.3 128.5L4579 238.6L4579 244.9Z" fill="#fff" stroke="#000" stroke-width="1.9"/>
<path d="M4565.7 399L4586.1 410.7L4586.1 408.9L4565.7 397.2Z" fill="#fff" stroke="#000" stroke-width="1.7"/>
<path d="M4586.1 410.7L4605.5 399.5L4605.5 397.7L4586.1 408.9Z" fill="#fff" stroke="#000" stroke-width="1.7"/>
<path d="M4565.7 397.2L4585.2 386L4605.5 397.7L4586.1 408.9Z" fill="#fff" stroke="#000" stroke-width="1.7"/>
<path d="M4574.8 396.1L4588 403.7L4588 174.7L4574.8 167.1Z" fill="#fff" stroke="#000" stroke-width="1.9"/>
<path d="M4588 403.7L4596.4 398.9L4596.4 169.9L4588 174.7Z" fill="#fff" stroke="#000" stroke-width="1.9"/>
<path d="M4592 401.3L4592 172.3M4579 398.7L4579 169.8M4583 401L4583 172" stroke-width="1.5"/>
<path d="M4492.9 441L4521.1 457.3L4521.1 455.5L4492.9 439.2Z" fill="#fff" stroke="#000" stroke-width="1.7"/>
<path d="M4521.1 457.3L4545.4 443.3L4545.4 441.5L4521.1 455.5Z" fill="#fff" stroke="#000" stroke-width="1.7"/>
<path d="M4492.9 439.2L4517.1 425.2L4545.4 441.5L4521.1 455.5Z" fill="#fff" stroke="#000" stroke-width="1.7"/>
<path d="M4501.9 438.1L4523.1 450.3L4523.1 221.3L4501.9 209.1Z" fill="#fff" stroke="#000" stroke-width="1.9"/>
<path d="M4523.1 450.3L4536.4 442.6L4536.4 213.6L4523.1 221.3Z" fill="#fff" stroke="#000" stroke-width="1.9"/>
<path d="M4530 446.5L4530 217.5M4509 442.3L4509 213.3M4516 446L4516 217" stroke-width="1.5"/>
<path d="M4339.4 529.4L4367.7 545.7L4367.7 543.9L4339.4 527.6Z" fill="#fff" stroke="#000" stroke-width="1.7"/>
<path d="M4367.7 545.7L4392.6 531.3L4392.6 529.5L4367.7 543.9Z" fill="#fff" stroke="#000" stroke-width="1.7"/>
<path d="M4339.4 527.6L4364.3 513.3L4392.6 529.5L4367.7 543.9Z" fill="#fff" stroke="#000" stroke-width="1.7"/>
<path d="M4348.4 526.5L4369.7 538.7L4369.7 309.7L4348.4 297.5Z" fill="#fff" stroke="#000" stroke-width="1.9"/>
<path d="M4369.7 538.7L4383.6 530.7L4383.6 301.7L4369.7 309.7Z" fill="#fff" stroke="#000" stroke-width="1.9"/>
<path d="M4377 534.7L4377 305.7M4356 530.8L4356 301.8M4362 534.4L4362 305.4" stroke-width="1.5"/>
<path d="M4186.6 617.5L4214.9 633.7L4214.9 632L4186.6 615.7Z" fill="#fff" stroke="#000" stroke-width="1.7"/>
<path d="M4214.9 633.7L4239.6 619.5L4239.6 617.7L4214.9 632Z" fill="#fff" stroke="#000" stroke-width="1.7"/>
<path d="M4186.6 615.7L4211.3 601.4L4239.6 617.7L4214.9 632Z" fill="#fff" stroke="#000" stroke-width="1.7"/>
<path d="M4195.6 614.5L4216.8 626.7L4216.8 397.8L4195.6 385.5Z" fill="#fff" stroke="#000" stroke-width="1.9"/>
<path d="M4216.8 626.7L4230.5 618.9L4230.5 389.9L4216.8 397.8Z" fill="#fff" stroke="#000" stroke-width="1.9"/>
<path d="M4224 622.8L4224 393.8M4203 618.8L4203 389.8M4209 622.5L4209 393.5" stroke-width="1.5"/>
<path d="M3943.2 757.7L3971.5 774L3971.5 772.2L3943.2 755.9Z" fill="#fff" stroke="#000" stroke-width="1.7"/>
<path d="M3971.5 774L3996.2 759.7L3996.2 757.9L3971.5 772.2Z" fill="#fff" stroke="#000" stroke-width="1.7"/>
<path d="M3943.2 755.9L3968 741.6L3996.2 757.9L3971.5 772.2Z" fill="#fff" stroke="#000" stroke-width="1.7"/>
<path d="M3952.3 754.7L3973.5 767L3973.5 538L3952.3 525.8Z" fill="#fff" stroke="#000" stroke-width="1.9"/>
<path d="M3973.5 767L3987.2 759.1L3987.2 530.1L3973.5 538Z" fill="#fff" stroke="#000" stroke-width="1.9"/>
<path d="M3980 763L3980 534M3960 759L3960 530M3966 762.7L3966 533.7" stroke-width="1.5"/>
<path d="M3677.1 911L3697.5 922.7L3697.5 920.9L3677.1 909.2Z" fill="#fff" stroke="#000" stroke-width="1.7"/>
<path d="M3697.5 922.7L3717.1 911.4L3717.1 909.6L3697.5 920.9Z" fill="#fff" stroke="#000" stroke-width="1.7"/>
<path d="M3677.1 909.2L3696.8 897.9L3717.1 909.6L3697.5 920.9Z" fill="#fff" stroke="#000" stroke-width="1.7"/>
<path d="M3686.2 908.1L3699.4 915.7L3699.4 686.7L3686.2 679.1Z" fill="#fff" stroke="#000" stroke-width="1.9"/>
<path d="M3699.4 915.7L3708.1 910.7L3708.1 681.7L3699.4 686.7Z" fill="#fff" stroke="#000" stroke-width="1.9"/>
<path d="M3704 913.2L3704 684.2M3691 910.7L3691 681.7M3695 913L3695 684" stroke-width="1.5"/>
<path d="M3786.3 625L3954.7 721.9L3908.7 953.2L3740.3 856.2Z" fill="#fff" stroke="#000" stroke-width="1.9"/>
<path d="M3798.4 632L3752.5 863.2M3825.4 647.5L3779.4 878.7M3837.6 654.5L3791.6 885.7M3864.7 670.1L3818.8 901.4M3876.5 676.9L3830.5 908.1M3903.6 692.5L3857.7 923.8M3915.6 699.4L3869.6 930.7M3942.8 715L3896.8 946.3" stroke-width="1.7"/>
<path d="M3801.5 633.7L3758.2 852.8M3822.3 645.7L3779 864.7M3840.7 656.3L3797.3 875.3M3861.7 668.3L3818.3 887.4M3879.6 678.7L3836.2 897.7M3900.6 690.7L3857.2 909.8M3918.7 701.2L3875.3 920.2M3939.7 713.3L3896.3 932.3" stroke-width="1.5"/>
<path d="M3740.3 856.2L3908.7 953.2L3916.9 958.2L3748.5 861.2Z" fill="#fff" stroke="#000" stroke-width="1.9"/>
<path d="M3954.7 721.9L4026.6 680.5L3951.1 937.9L3916.9 958.2L3908.7 953.2Z" fill="#fff" stroke="#000" stroke-width="1.9"/>
<path d="M3964.9 716.1L3916.9 958.2" stroke-width="1.5"/>
<path d="M3735.4 838.6L3914.5 941.7" stroke-width="3.2"/>
<path d="M3735.4 838.6L3914.5 941.7" stroke="#fff" stroke-width="1.2"/>
<path d="M3766.4 882.2L3790.7 896.2L3790.7 894.4L3766.4 880.5Z" fill="#fff" stroke="#000" stroke-width="1.7"/>
<path d="M3790.7 896.2L3815.4 882L3815.4 880.2L3790.7 894.4Z" fill="#fff" stroke="#000" stroke-width="1.7"/>
<path d="M3766.4 880.5L3791.1 866.2L3815.4 880.2L3790.7 894.4Z" fill="#fff" stroke="#000" stroke-width="1.7"/>
<path d="M3778.5 880.1L3791.3 887.5L3791.3 870.4L3778.5 863Z" fill="#fff" stroke="#000" stroke-width="1.7"/>
<path d="M3791.3 887.5L3804.1 880.1L3804.1 863L3791.3 870.4Z" fill="#fff" stroke="#000" stroke-width="1.7"/>
<path d="M3778.5 863L3791.3 855.6L3804.1 863L3791.3 870.4Z" fill="#fff" stroke="#000" stroke-width="1.7"/>
<path d="M3828.7 918.1L3853 932.1L3853 930.3L3828.7 916.3Z" fill="#fff" stroke="#000" stroke-width="1.7"/>
<path d="M3853 932.1L3877.7 917.9L3877.7 916.1L3853 930.3Z" fill="#fff" stroke="#000" stroke-width="1.7"/>
<path d="M3828.7 916.3L3853.4 902.1L3877.7 916.1L3853 930.3Z" fill="#fff" stroke="#000" stroke-width="1.7"/>
<path d="M3840.8 916L3853.7 923.3L3853.7 906.2L3840.8 898.9Z" fill="#fff" stroke="#000" stroke-width="1.7"/>
<path d="M3853.7 923.3L3866.5 916L3866.5 898.9L3853.7 906.2Z" fill="#fff" stroke="#000" stroke-width="1.7"/>
<path d="M3840.8 898.9L3853.7 891.5L3866.5 898.9L3853.7 906.2Z" fill="#fff" stroke="#000" stroke-width="1.7"/>
<path d="M3891 954L3915.3 968L3915.3 966.2L3891 952.2Z" fill="#fff" stroke="#000" stroke-width="1.7"/>
<path d="M3915.3 968L3940.1 953.7L3940.1 952L3915.3 966.2Z" fill="#fff" stroke="#000" stroke-width="1.7"/>
<path d="M3891 952.2L3915.8 938L3940.1 952L3915.3 966.2Z" fill="#fff" stroke="#000" stroke-width="1.7"/>
<path d="M3903.2 951.8L3916 959.2L3916 942.1L3903.2 934.7Z" fill="#fff" stroke="#000" stroke-width="1.7"/>
<path d="M3916 959.2L3928.8 951.8L3928.8 934.8L3916 942.1Z" fill="#fff" stroke="#000" stroke-width="1.7"/>
<path d="M3903.2 934.7L3916 927.4L3928.8 934.8L3916 942.1Z" fill="#fff" stroke="#000" stroke-width="1.7"/>
<path d="M3791.9 820.8L3798.1 817.3L3861.9 853.9L3861.9 860.6Z" fill="#fff" stroke="#000" stroke-width="1.9"/>
<path d="M4828.9 223.3L4822.3 227.1L4758.9 336.6L4758.9 343.7Z" fill="#fff" stroke="#000" stroke-width="1.9"/>
<path d="M4146.1 616.7L4236.6 637L4236.6 652L4141.7 631L4141.7 622.8Z" fill="#fff" stroke="#000" stroke-width="1.9"/>
<path d="M4366.9 489.5L4276.4 614.1L4276.4 629.1L4371.4 498.7L4371.4 490.5Z" fill="#fff" stroke="#000" stroke-width="1.9"/>
<path d="M4236.6 669.6L4141.7 800.1L4141.7 816.1L4236.6 684.2Z" fill="#fff" stroke="#000" stroke-width="1.9"/>
<path d="M4276.4 646.7L4371.4 667.7L4371.4 683.3L4276.4 661.3Z" fill="#fff" stroke="#000" stroke-width="1.9"/>
<path d="M4388.6 477L4434.3 521.1L4447.1 513.7L4402.7 468.9Z" fill="#fff" stroke="#000" stroke-width="1.9"/>
<path d="M4520.6 400.9L4474.9 497.7L4462.6 504.8L4506.5 409.1Z" fill="#fff" stroke="#000" stroke-width="1.9"/>
<path d="M4434.3 566.7L4385 671.8L4385 693.8L4447.1 559.3Z" fill="#fff" stroke="#000" stroke-width="1.9"/>
<path d="M4474.9 543.3L4524.2 591.7L4524.2 613.1L4462.6 550.4Z" fill="#fff" stroke="#000" stroke-width="1.9"/>
<path d="M4541.6 388.9L4587.8 432.6L4600.6 425.3L4555.7 380.7Z" fill="#fff" stroke="#000" stroke-width="1.9"/>
<path d="M4674.1 312.5L4627.5 409.7L4615.1 416.9L4660 320.7Z" fill="#fff" stroke="#000" stroke-width="1.9"/>
<path d="M4587.8 478.3L4538.1 583.7L4538.1 605.6L4600.6 470.9Z" fill="#fff" stroke="#000" stroke-width="1.9"/>
<path d="M4627.5 455.4L4677.6 503.3L4677.6 524.7L4615.1 462.5Z" fill="#fff" stroke="#000" stroke-width="1.9"/>
<path d="M4234.9 683.1L4238.4 685.2L4238.4 638L4234.9 636Z" fill="#fff" stroke="#000" stroke-width="1.9"/>
<path d="M4238.4 685.2L4278.2 662.3L4278.2 615.1L4238.4 638Z" fill="#fff" stroke="#000" stroke-width="1.9"/>
<path d="M4234.9 636L4274.6 613.1L4278.2 615.1L4238.4 638Z" fill="#fff" stroke="#000" stroke-width="1.9"/>
<path d="M4432.5 565.7L4436.1 567.7L4436.1 522.1L4432.5 520.1Z" fill="#fff" stroke="#000" stroke-width="1.9"/>
<path d="M4436.1 567.7L4476.7 544.3L4476.7 498.7L4436.1 522.1Z" fill="#fff" stroke="#000" stroke-width="1.9"/>
<path d="M4432.5 520.1L4473.2 496.6L4476.7 498.7L4436.1 522.1Z" fill="#fff" stroke="#000" stroke-width="1.9"/>
<path d="M4586 477.3L4589.5 479.3L4589.5 433.7L4586 431.6Z" fill="#fff" stroke="#000" stroke-width="1.9"/>
<path d="M4589.5 479.3L4629.3 456.4L4629.3 410.8L4589.5 433.7Z" fill="#fff" stroke="#000" stroke-width="1.9"/>
<path d="M4586 431.6L4625.7 408.7L4629.3 410.8L4589.5 433.7Z" fill="#fff" stroke="#000" stroke-width="1.9"/>
<path d="M3941.6 821.6L3936.3 818.6L3871.7 854.9L3871.7 861.2Z" fill="#fff" stroke="#000" stroke-width="1.9"/>
<path d="M4210.2 666.9L4204.9 663.8L4140.4 700.1L4140.4 706.4Z" fill="#fff" stroke="#000" stroke-width="1.9"/>
<path d="M4453.6 526.7L4448.3 523.6L4383.7 559.9L4383.7 566.2Z" fill="#fff" stroke="#000" stroke-width="1.9"/>
<path d="M4606.5 438.5L4601.2 435.5L4536.6 471.8L4536.6 478Z" fill="#fff" stroke="#000" stroke-width="1.9"/>
<path d="M4759.6 350.3L4754.3 347.3L4689.8 383.5L4689.8 389.8Z" fill="#fff" stroke="#000" stroke-width="1.9"/>
<path d="M4830.1 309.7L4824.8 306.7L4760.2 342.9L4760.2 349.2Z" fill="#fff" stroke="#000" stroke-width="1.9"/>
<path d="M4733.7 495.7L4754 507.4L4754 505.6L4733.7 493.9Z" fill="#fff" stroke="#000" stroke-width="1.7"/>
<path d="M4754 507.4L4773.5 496.2L4773.5 494.4L4754 505.6Z" fill="#fff" stroke="#000" stroke-width="1.7"/>
<path d="M4733.7 493.9L4753.1 482.7L4773.5 494.4L4754 505.6Z" fill="#fff" stroke="#000" stroke-width="1.7"/>
<path d="M4742.8 492.8L4756 500.4L4756 271.4L4742.8 263.8Z" fill="#fff" stroke="#000" stroke-width="1.9"/>
<path d="M4756 500.4L4764.4 495.6L4764.4 266.6L4756 271.4Z" fill="#fff" stroke="#000" stroke-width="1.9"/>
<path d="M4760 498L4760 269M4747 495.4L4747 266.5M4751 497.7L4751 268.7" stroke-width="1.5"/>
<path d="M4652.9 533.1L4681.2 549.4L4681.2 547.6L4652.9 531.3Z" fill="#fff" stroke="#000" stroke-width="1.7"/>
<path d="M4681.2 549.4L4705.5 535.4L4705.5 533.6L4681.2 547.6Z" fill="#fff" stroke="#000" stroke-width="1.7"/>
<path d="M4652.9 531.3L4677.2 517.3L4705.5 533.6L4681.2 547.6Z" fill="#fff" stroke="#000" stroke-width="1.7"/>
<path d="M4661.9 530.2L4683.2 542.4L4683.2 313.4L4661.9 301.2Z" fill="#fff" stroke="#000" stroke-width="1.9"/>
<path d="M4683.2 542.4L4696.4 534.8L4696.4 305.8L4683.2 313.4Z" fill="#fff" stroke="#000" stroke-width="1.9"/>
<path d="M4690 538.6L4690 309.6M4669 534.5L4669 305.5M4676 538.1L4676 309.1" stroke-width="1.5"/>
<path d="M4499.4 621.5L4527.7 637.8L4527.7 636L4499.4 619.8Z" fill="#fff" stroke="#000" stroke-width="1.7"/>
<path d="M4527.7 637.8L4552.7 623.4L4552.7 621.7L4527.7 636Z" fill="#fff" stroke="#000" stroke-width="1.7"/>
<path d="M4499.4 619.8L4524.4 605.4L4552.7 621.7L4527.7 636Z" fill="#fff" stroke="#000" stroke-width="1.7"/>
<path d="M4508.5 618.6L4529.7 630.8L4529.7 401.8L4508.5 389.6Z" fill="#fff" stroke="#000" stroke-width="1.9"/>
<path d="M4529.7 630.8L4543.6 622.8L4543.6 393.8L4529.7 401.8Z" fill="#fff" stroke="#000" stroke-width="1.9"/>
<path d="M4537 626.8L4537 397.8M4516 622.9L4516 393.9M4522 626.5L4522 397.6" stroke-width="1.5"/>
<path d="M4346.6 709.6L4374.9 725.9L4374.9 724.1L4346.6 707.8Z" fill="#fff" stroke="#000" stroke-width="1.7"/>
<path d="M4374.9 725.9L4399.6 711.6L4399.6 709.8L4374.9 724.1Z" fill="#fff" stroke="#000" stroke-width="1.7"/>
<path d="M4346.6 707.8L4371.3 693.5L4399.6 709.8L4374.9 724.1Z" fill="#fff" stroke="#000" stroke-width="1.7"/>
<path d="M4355.7 706.7L4376.9 718.9L4376.9 489.9L4355.7 477.7Z" fill="#fff" stroke="#000" stroke-width="1.9"/>
<path d="M4376.9 718.9L4390.6 711L4390.6 482L4376.9 489.9Z" fill="#fff" stroke="#000" stroke-width="1.9"/>
<path d="M4384 714.9L4384 485.9M4363 710.9L4363 481.9M4369 714.6L4369 485.6" stroke-width="1.5"/>
<path d="M4103.3 849.8L4131.5 866.1L4131.5 864.3L4103.3 848Z" fill="#fff" stroke="#000" stroke-width="1.7"/>
<path d="M4131.5 866.1L4156.3 851.8L4156.3 850L4131.5 864.3Z" fill="#fff" stroke="#000" stroke-width="1.7"/>
<path d="M4103.3 848L4128 833.8L4156.3 850L4131.5 864.3Z" fill="#fff" stroke="#000" stroke-width="1.7"/>
<path d="M4112.3 846.9L4133.5 859.1L4133.5 630.1L4112.3 617.9Z" fill="#fff" stroke="#000" stroke-width="1.9"/>
<path d="M4133.5 859.1L4147.2 851.2L4147.2 622.2L4133.5 630.1Z" fill="#fff" stroke="#000" stroke-width="1.9"/>
<path d="M4140 855.1L4140 626.1M4120 851.1L4120 622.2M4126 854.8L4126 625.8" stroke-width="1.5"/>
<path d="M3845.1 1007.7L3865.5 1019.4L3865.5 1017.6L3845.1 1005.9Z" fill="#fff" stroke="#000" stroke-width="1.7"/>
<path d="M3865.5 1019.4L3885.1 1008.1L3885.1 1006.3L3865.5 1017.6Z" fill="#fff" stroke="#000" stroke-width="1.7"/>
<path d="M3845.1 1005.9L3864.8 994.6L3885.1 1006.3L3865.5 1017.6Z" fill="#fff" stroke="#000" stroke-width="1.7"/>
<path d="M3854.2 1004.8L3867.4 1012.4L3867.4 783.4L3854.2 775.8Z" fill="#fff" stroke="#000" stroke-width="1.9"/>
<path d="M3867.4 1012.4L3876 1007.4L3876 778.4L3867.4 783.4Z" fill="#fff" stroke="#000" stroke-width="1.9"/>
<path d="M3872 1009.9L3872 780.9M3859 1007.4L3859 778.4M3863 1009.7L3863 780.7" stroke-width="1.5"/>
<path d="M3547 675.5L3867.5 860L4904.5 262.5L4904.5 266.6L3867.5 864.1L3547 679.6Z" fill="#fff" stroke="#000" stroke-width="1.7"/>
<path d="M3547 675.5L4584 78L4904.5 262.5L3867.5 860ZM3686.6 675.2L4583.6 158.4L4764.9 262.8L3867.9 779.6ZM3694.8 670.5L3750.7 638.3L3931.9 742.7L3876 774.9Z" fill="#fff" fill-rule="evenodd" stroke="none"/>
<path clip-path="url(#cpi)" stroke-width="1" d="M3540 -725.2L4910 62.6M3540 -711.6L4910 76.2M3540 -698L4910 89.8M3540 -684.4L4910 103.4M3540 -670.8L4910 117M3540 -657.2L4910 130.6M3540 -643.6L4910 144.2M3540 -630L4910 157.8M3540 -616.4L4910 171.4M3540 -602.8L4910 185M3540 -589.2L4910 198.6M3540 -575.6L4910 212.2M3540 -562L4910 225.8M3540 -548.4L4910 239.4M3540 -534.8L4910 253M3540 -521.2L4910 266.6M3540 -507.6L4910 280.2M3540 -494L4910 293.8M3540 -480.4L4910 307.4M3540 -466.8L4910 321M3540 -453.2L4910 334.6M3540 -439.6L4910 348.2M3540 -426L4910 361.8M3540 -412.4L4910 375.4M3540 -398.8L4910 389M3540 -385.2L4910 402.6M3540 -371.6L4910 416.2M3540 -358L4910 429.8M3540 -344.4L4910 443.4M3540 -330.8L4910 457M3540 -317.2L4910 470.6M3540 -303.6L4910 484.2M3540 -290L4910 497.8M3540 -276.4L4910 511.4M3540 -262.8L4910 525M3540 -249.2L4910 538.6M3540 -235.6L4910 552.2M3540 -222L4910 565.8M3540 -208.4L4910 579.4M3540 -194.8L4910 593M3540 -181.2L4910 606.6M3540 -167.6L4910 620.2M3540 -154L4910 633.8M3540 -140.4L4910 647.4M3540 -126.8L4910 661M3540 -113.2L4910 674.6M3540 -99.6L4910 688.2M3540 -86L4910 701.8M3540 -72.4L4910 715.4M3540 -58.8L4910 729M3540 -45.2L4910 742.6M3540 -31.6L4910 756.2M3540 -18L4910 769.8M3540 -4.4L4910 783.4M3540 9.2L4910 797M3540 22.8L4910 810.6M3540 36.4L4910 824.2M3540 50L4910 837.8M3540 63.6L4910 851.4M3540 77.2L4910 865M3540 90.8L4910 878.6M3540 104.4L4910 892.2M3540 118L4910 905.8M3540 131.6L4910 919.4M3540 145.2L4910 933M3540 158.8L4910 946.6M3540 172.4L4910 960.2M3540 186L4910 973.8M3540 199.6L4910 987.4M3540 213.2L4910 1001M3540 226.8L4910 1014.6M3540 240.4L4910 1028.2M3540 254L4910 1041.8M3540 267.6L4910 1055.4M3540 281.2L4910 1069M3540 294.8L4910 1082.6M3540 308.4L4910 1096.2M3540 322L4910 1109.8M3540 335.6L4910 1123.4M3540 349.2L4910 1137M3540 362.8L4910 1150.6M3540 376.4L4910 1164.2M3540 390L4910 1177.8M3540 403.6L4910 1191.4M3540 417.2L4910 1205M3540 430.8L4910 1218.6M3540 444.4L4910 1232.2M3540 458L4910 1245.8M3540 471.6L4910 1259.4M3540 485.2L4910 1273M3540 498.8L4910 1286.6M3540 512.4L4910 1300.2M3540 526L4910 1313.8M3540 539.6L4910 1327.4M3540 553.2L4910 1341M3540 566.8L4910 1354.6M3540 580.4L4910 1368.2M3540 594L4910 1381.8M3540 607.6L4910 1395.4M3540 621.2L4910 1409M3540 634.8L4910 1422.6M3540 648.4L4910 1436.2M3540 662L4910 1449.8M3540 675.6L4910 1463.4M3540 689.2L4910 1477M3540 702.8L4910 1490.6M3540 716.4L4910 1504.2M3540 730L4910 1517.8M3540 743.6L4910 1531.4M3540 757.2L4910 1545M3540 770.8L4910 1558.6M3540 784.4L4910 1572.2M3540 798L4910 1585.8M3540 811.6L4910 1599.4M3540 825.2L4910 1613M3540 838.8L4910 1626.6M3540 852.4L4910 1640.2M3540 866L4910 1653.8M3455.2 70L3315 865M3467.1 70L3326.9 865M3479 70L3338.8 865M3490.9 70L3350.7 865M3502.8 70L3362.6 865M3514.7 70L3374.5 865M3526.6 70L3386.4 865M3538.5 70L3398.3 865M3550.4 70L3410.2 865M3562.3 70L3422.1 865M3574.2 70L3434 865M3586.1 70L3445.9 865M3598 70L3457.8 865M3609.9 70L3469.7 865M3621.8 70L3481.6 865M3633.7 70L3493.5 865M3645.6 70L3505.4 865M3657.5 70L3517.3 865M3669.4 70L3529.2 865M3681.3 70L3541.1 865M3693.2 70L3553 865M3705.1 70L3564.9 865M3717 70L3576.8 865M3728.9 70L3588.7 865M3740.8 70L3600.6 865M3752.7 70L3612.5 865M3764.6 70L3624.4 865M3776.5 70L3636.3 865M3788.4 70L3648.2 865M3800.3 70L3660.1 865M3812.2 70L3672 865M3824.1 70L3683.9 865M3836 70L3695.8 865M3847.9 70L3707.7 865M3859.8 70L3719.6 865M3871.7 70L3731.5 865M3883.6 70L3743.4 865M3895.5 70L3755.3 865M3907.4 70L3767.2 865M3919.3 70L3779.1 865M3931.2 70L3791 865M3943.1 70L3802.9 865M3955 70L3814.8 865M3966.9 70L3826.7 865M3978.8 70L3838.6 865M3990.7 70L3850.5 865M4002.6 70L3862.4 865M4014.5 70L3874.3 865M4026.4 70L3886.2 865M4038.3 70L3898.1 865M4050.2 70L3910 865M4062.1 70L3921.9 865M4074 70L3933.8 865M4085.9 70L3945.7 865M4097.8 70L3957.6 865M4109.7 70L3969.5 865M4121.6 70L3981.4 865M4133.5 70L3993.3 865M4145.4 70L4005.2 865M4157.3 70L4017.1 865M4169.2 70L4029 865M4181.1 70L4040.9 865M4193 70L4052.8 865M4204.9 70L4064.7 865M4216.8 70L4076.6 865M4228.7 70L4088.5 865M4240.6 70L4100.4 865M4252.5 70L4112.3 865M4264.4 70L4124.2 865M4276.3 70L4136.1 865M4288.2 70L4148 865M4300.1 70L4159.9 865M4312 70L4171.8 865M4323.9 70L4183.7 865M4335.8 70L4195.6 865M4347.7 70L4207.5 865M4359.6 70L4219.4 865M4371.5 70L4231.3 865M4383.4 70L4243.2 865M4395.3 70L4255.1 865M4407.2 70L4267 865M4419.1 70L4278.9 865M4431 70L4290.8 865M4442.9 70L4302.7 865M4454.8 70L4314.6 865M4466.7 70L4326.5 865M4478.6 70L4338.4 865M4490.5 70L4350.3 865M4502.4 70L4362.2 865M4514.3 70L4374.1 865M4526.2 70L4386 865M4538.1 70L4397.9 865M4550 70L4409.8 865M4561.9 70L4421.7 865M4573.8 70L4433.6 865M4585.7 70L4445.5 865M4597.6 70L4457.4 865M4609.5 70L4469.3 865M4621.4 70L4481.2 865M4633.3 70L4493.1 865M4645.2 70L4505 865M4657.1 70L4516.9 865M4669 70L4528.8 865M4680.9 70L4540.7 865M4692.8 70L4552.6 865M4704.7 70L4564.5 865M4716.6 70L4576.4 865M4728.5 70L4588.3 865M4740.4 70L4600.2 865M4752.3 70L4612.1 865M4764.2 70L4624 865M4776.1 70L4635.9 865M4788 70L4647.8 865M4799.9 70L4659.7 865M4811.8 70L4671.6 865M4823.7 70L4683.5 865M4835.6 70L4695.4 865M4847.5 70L4707.3 865M4859.4 70L4719.2 865M4871.3 70L4731.1 865M4883.2 70L4743 865M4895.1 70L4754.9 865M4907 70L4766.8 865M4918.9 70L4778.7 865M4930.8 70L4790.6 865M4942.7 70L4802.5 865M4954.6 70L4814.4 865M4966.5 70L4826.3 865M4978.4 70L4838.2 865M4990.3 70L4850.1 865M5002.2 70L4862 865M5014.1 70L4873.9 865M5026 70L4885.8 865M5037.9 70L4897.7 865M5049.8 70L4909.6 865M5061.7 70L4921.5 865M5073.6 70L4933.4 865M5085.5 70L4945.3 865M5097.4 70L4957.2 865M5109.3 70L4969.1 865M5121.2 70L4981 865M5133.1 70L4992.9 865M5145 70L5004.8 865M5156.9 70L5016.7 865M5168.8 70L5028.6 865M5180.7 70L5040.5 865M5192.6 70L5052.4 865M5204.5 70L5064.3 865M5216.4 70L5076.2 865M5228.3 70L5088.1 865"/>
<path d="M3547 675.5L4584 78L4904.5 262.5L3867.5 860ZM3686.6 675.2L4583.6 158.4L4764.9 262.8L3867.9 779.6ZM3694.8 670.5L3750.7 638.3L3931.9 742.7L3876 774.9Z" stroke-width="1.9"/>
<path d="M3617 635.2L3686.6 675.2M3867.9 779.6L3937.5 819.7M4514 118.3L4583.6 158.4M4764.9 262.8L4834.5 302.8M3690.4 673.1L3871.6 777.4M3692.6 671.8L3873.8 776.1M3726.2 692.7L3733.3 688.6L3746.5 696.2L3739.5 700.3ZM3823.4 748.7L3830.5 744.6L3844.2 752.5L3837.1 756.6Z" stroke-width="1.5"/>
<path d="M3812.1 518.6L4571.5 81M3809.4 517L4568.8 79.5" stroke-width="1.7"/>
<path d="M4122.5 619.6L4133.5 626L4133.5 602L4122.5 595.7Z" fill="#fff" stroke="#000" stroke-width="1.9"/>
<path d="M4133.5 626L4147.2 618.1L4147.2 594.2L4133.5 602Z" fill="#fff" stroke="#000" stroke-width="1.9"/>
<path d="M4122.5 595.7L4136.2 587.8L4147.2 594.2L4133.5 602Z" fill="#fff" stroke="#000" stroke-width="1.9"/>
<path d="M4365.8 479.4L4376.9 485.8L4376.9 435.8L4365.8 429.5Z" fill="#fff" stroke="#000" stroke-width="1.9"/>
<path d="M4376.9 485.8L4390.6 477.9L4390.6 427.9L4376.9 435.8Z" fill="#fff" stroke="#000" stroke-width="1.9"/>
<path d="M4365.8 429.5L4379.5 421.6L4390.6 427.9L4376.9 435.8Z" fill="#fff" stroke="#000" stroke-width="1.9"/>
<path d="M4376.9 461.3L4390.6 453.4" stroke-width="1.5"/>
<path d="M4389.7 453.2L4404.3 469L4393.2 475.4L4389.7 471.5Z" fill="#fff" stroke="#000" stroke-width="1.9"/>
<path d="M4376 461.1L4361.4 493.7L4372.5 487.3L4376 479.4Z" fill="#fff" stroke="#000" stroke-width="1.9"/>
<path d="M4518.6 391.4L4529.7 397.8L4529.7 347.8L4518.6 341.4Z" fill="#fff" stroke="#000" stroke-width="1.9"/>
<path d="M4529.7 397.8L4543.6 389.7L4543.6 339.8L4529.7 347.8Z" fill="#fff" stroke="#000" stroke-width="1.9"/>
<path d="M4518.6 341.4L4532.5 333.4L4543.6 339.8L4529.7 347.8Z" fill="#fff" stroke="#000" stroke-width="1.9"/>
<path d="M4529.7 373.3L4543.6 365.3" stroke-width="1.5"/>
<path d="M4542.7 365L4557.3 380.8L4546.2 387.2L4542.7 383.4Z" fill="#fff" stroke="#000" stroke-width="1.9"/>
<path d="M4528.8 373L4514.2 405.6L4525.3 399.3L4528.8 391.4Z" fill="#fff" stroke="#000" stroke-width="1.9"/>
<path d="M4672.1 303L4683.2 309.3L4683.2 259.3L4672.1 253Z" fill="#fff" stroke="#000" stroke-width="1.9"/>
<path d="M4683.2 309.3L4696.4 301.7L4696.4 251.7L4683.2 259.3Z" fill="#fff" stroke="#000" stroke-width="1.9"/>
<path d="M4672.1 253L4685.4 245.3L4696.4 251.7L4683.2 259.3Z" fill="#fff" stroke="#000" stroke-width="1.9"/>
<path d="M4683.2 284.8L4696.4 277.2" stroke-width="1.5"/>
<path d="M4682.3 284.6L4667.7 317.2L4678.7 310.9L4682.3 302.9Z" fill="#fff" stroke="#000" stroke-width="1.9"/>
<path d="M3804.8 531.9L3973.2 628.9L3954.7 721.9L3786.3 625Z" fill="#fff" stroke="#000" stroke-width="1.9"/>
<path d="M3816.9 538.9L3798.4 632M3843.9 554.5L3825.4 647.5M3856.1 561.5L3837.6 654.5M3883.2 577.1L3864.7 670.1M3895 583.9L3876.5 676.9M3922.1 599.5L3903.6 692.5M3934.1 606.4L3915.6 699.4M3961.3 622L3942.8 715" stroke-width="1.7"/>
<path d="M3818.3 548.9L3801.5 633.7M3839 560.8L3822.3 645.7M3822 576.5L3820.9 582.3L3825.3 584.8L3826.4 579.1M3857.4 571.4L3840.7 656.3M3878.4 583.5L3861.7 668.3M3861.3 599.1L3860.1 604.9L3864.5 607.4L3865.7 601.7M3896.3 593.8L3879.6 678.7M3917.3 605.9L3900.6 690.7M3900.2 621.5L3899 627.3L3903.4 629.8L3904.6 624.1M3935.4 616.3L3918.7 701.2M3956.4 628.4L3939.7 713.3M3939.3 644L3938.1 649.8L3942.6 652.3L3943.7 646.6" stroke-width="1.5"/>
<path d="M3791.6 551.8L3972.4 655.9" stroke-width="3.4"/><path d="M3791.6 551.8L3972.4 655.9" stroke="#fff" stroke-width="1.5"/>
<path d="M3973.2 628.9L4742.8 185.5L4735.9 222.1L4370.7 432.3L4049.8 649.9L4030.6 678.2L3954.7 721.9Z" fill="#fff" stroke="#000" stroke-width="1.9"/>
<path d="M3983.1 623.2L3964.9 716.1" stroke-width="1.5"/>
<path d="M3804.8 531.9L4574.3 88.5L4742.8 185.5L3973.2 628.9Z" fill="#fff" stroke="#000" stroke-width="1.9"/>
<path d="M3814.7 526.2L3983.1 623.2" stroke-width="1.7"/>
<path d="M3826.9 533.2L4586.5 95.5M3853.8 548.7L4613.5 111M3866 555.7L4625.6 118M3893.2 571.4L4652.8 133.7M3904.9 578.1L4664.5 140.4M3932.1 593.8L4691.7 156.1M3944 600.6L4703.7 163M3971.2 616.3L4730.8 178.6M3859.1 530.2L4587.8 110.3" stroke-width="2.7"/>
<path d="M3815.6 549.9L3840.8 564.4L3840.8 553.2L3815.6 538.7Z" fill="#fff" stroke="#000" stroke-width="1.7"/>
<path d="M3840.8 564.4L3853 557.4L3853 546.2L3840.8 553.2Z" fill="#fff" stroke="#000" stroke-width="1.7"/>
<path d="M3815.6 538.7L3827.8 531.7L3853 546.2L3840.8 553.2Z" fill="#fff" stroke="#000" stroke-width="1.7"/>
<path d="M4587.8 107.2L4599.8 100.3M3838.8 536.8L3853.8 528.1" stroke-width="3"/>
<path d="M4587.8 99.1L4605.5 109.3" stroke-width="1.7"/>
<path d="M3898.4 552.7L4627.1 132.9" stroke-width="2.7"/>
<path d="M3854.7 572.4L3880.1 587.1L3880.1 575.8L3854.7 561.2Z" fill="#fff" stroke="#000" stroke-width="1.7"/>
<path d="M3880.1 587.1L3892.3 580.1L3892.3 568.8L3880.1 575.8Z" fill="#fff" stroke="#000" stroke-width="1.7"/>
<path d="M3854.7 561.2L3866.9 554.2L3892.3 568.8L3880.1 575.8Z" fill="#fff" stroke="#000" stroke-width="1.7"/>
<path d="M4627.1 129.8L4639 122.9M3878 559.3L3893.1 550.7" stroke-width="3"/>
<path d="M4627.1 121.7L4644.8 131.8" stroke-width="1.7"/>
<path d="M3937.3 575.1L4666 155.3" stroke-width="2.7"/>
<path d="M3893.6 594.8L3919.1 609.4L3919.1 598.2L3893.6 583.6Z" fill="#fff" stroke="#000" stroke-width="1.7"/>
<path d="M3919.1 609.4L3931.2 602.4L3931.2 591.2L3919.1 598.2Z" fill="#fff" stroke="#000" stroke-width="1.7"/>
<path d="M3893.6 583.6L3905.8 576.6L3931.2 591.2L3919.1 598.2Z" fill="#fff" stroke="#000" stroke-width="1.7"/>
<path d="M4666 152.2L4677.9 145.3M3916.9 581.7L3932 573.1" stroke-width="3"/>
<path d="M4666 144.1L4683.7 154.2" stroke-width="1.7"/>
<path d="M3976.4 597.7L4705.1 177.8" stroke-width="2.7"/>
<path d="M3932.8 617.3L3958.2 632L3958.2 620.7L3932.8 606.1Z" fill="#fff" stroke="#000" stroke-width="1.7"/>
<path d="M3958.2 632L3970.3 625L3970.3 613.7L3958.2 620.7Z" fill="#fff" stroke="#000" stroke-width="1.7"/>
<path d="M3932.8 606.1L3944.9 599.1L3970.3 613.7L3958.2 620.7Z" fill="#fff" stroke="#000" stroke-width="1.7"/>
<path d="M4705.1 174.7L4717 167.9M3956.1 604.3L3971.1 595.6" stroke-width="3"/>
<path d="M4705.1 166.6L4722.8 176.8" stroke-width="1.7"/>
<path d="M3829.1 512.3L4002.8 612.3" stroke-width="3.6"/><path d="M3829.1 512.3L4002.8 612.3" stroke="#fff" stroke-width="1.4"/>
<circle cx="3829.1" cy="512.3" r="3" stroke-width="1.9" fill="none"/>
<circle cx="4002.8" cy="612.3" r="3.2" stroke-width="1.9" fill="none"/>
<path d="M4009.7 408.3L4183.4 508.3" stroke-width="3.6"/><path d="M4009.7 408.3L4183.4 508.3" stroke="#fff" stroke-width="1.4"/>
<circle cx="4009.7" cy="408.3" r="3" stroke-width="1.9" fill="none"/>
<circle cx="4183.4" cy="508.3" r="3.2" stroke-width="1.9" fill="none"/>
<path d="M4190.8 303.9L4364.5 403.9" stroke-width="3.6"/><path d="M4190.8 303.9L4364.5 403.9" stroke="#fff" stroke-width="1.4"/>
<circle cx="4190.8" cy="303.9" r="3" stroke-width="1.9" fill="none"/>
<circle cx="4364.5" cy="403.9" r="3.2" stroke-width="1.9" fill="none"/>
<path d="M4371.4 199.8L4545.1 299.9" stroke-width="3.6"/><path d="M4371.4 199.8L4545.1 299.9" stroke="#fff" stroke-width="1.4"/>
<circle cx="4371.4" cy="199.8" r="3" stroke-width="1.9" fill="none"/>
<circle cx="4545.1" cy="299.9" r="3.2" stroke-width="1.9" fill="none"/>
<path d="M4552.3 95.6L4726 195.7" stroke-width="3.6"/><path d="M4552.3 95.6L4726 195.7" stroke="#fff" stroke-width="1.4"/>
<circle cx="4552.3" cy="95.6" r="3" stroke-width="1.9" fill="none"/>
<circle cx="4726" cy="195.7" r="3.2" stroke-width="1.9" fill="none"/>
<rect x="3919.4" y="453.1" width="10" height="17" rx="4" fill="#fff" stroke-width="1.7"/>
<rect x="3922.7" y="456.6" width="3.4" height="8" rx="1.7" stroke-width="1.7"/>
<rect x="3938.9" y="464.3" width="10" height="17" rx="4" fill="#fff" stroke-width="1.7"/>
<rect x="3942.2" y="467.8" width="3.4" height="8" rx="1.7" stroke-width="1.7"/>
<rect x="3958.4" y="475.5" width="10" height="17" rx="4" fill="#fff" stroke-width="1.7"/>
<rect x="3961.7" y="479" width="3.4" height="8" rx="1.7" stroke-width="1.7"/>
<rect x="3977.8" y="486.7" width="10" height="17" rx="4" fill="#fff" stroke-width="1.7"/>
<rect x="3981.1" y="490.2" width="3.4" height="8" rx="1.7" stroke-width="1.7"/>
<rect x="3997.3" y="497.9" width="10" height="17" rx="4" fill="#fff" stroke-width="1.7"/>
<rect x="4000.6" y="501.4" width="3.4" height="8" rx="1.7" stroke-width="1.7"/>
<rect x="4016.7" y="509.1" width="10" height="17" rx="4" fill="#fff" stroke-width="1.7"/>
<rect x="4020" y="512.6" width="3.4" height="8" rx="1.7" stroke-width="1.7"/>
<rect x="4036.2" y="520.3" width="10" height="17" rx="4" fill="#fff" stroke-width="1.7"/>
<rect x="4039.5" y="523.8" width="3.4" height="8" rx="1.7" stroke-width="1.7"/>
<rect x="4055.7" y="531.5" width="10" height="17" rx="4" fill="#fff" stroke-width="1.7"/>
<rect x="4059" y="535" width="3.4" height="8" rx="1.7" stroke-width="1.7"/>
<rect x="4075.1" y="542.7" width="10" height="17" rx="4" fill="#fff" stroke-width="1.7"/>
<rect x="4078.4" y="546.2" width="3.4" height="8" rx="1.7" stroke-width="1.7"/>
<rect x="4297.7" y="235.1" width="10" height="17" rx="4" fill="#fff" stroke-width="1.7"/>
<rect x="4301" y="238.6" width="3.4" height="8" rx="1.7" stroke-width="1.7"/>
<rect x="4317.2" y="246.3" width="10" height="17" rx="4" fill="#fff" stroke-width="1.7"/>
<rect x="4320.5" y="249.8" width="3.4" height="8" rx="1.7" stroke-width="1.7"/>
<rect x="4336.6" y="257.5" width="10" height="17" rx="4" fill="#fff" stroke-width="1.7"/>
<rect x="4339.9" y="261" width="3.4" height="8" rx="1.7" stroke-width="1.7"/>
<rect x="4356.1" y="268.7" width="10" height="17" rx="4" fill="#fff" stroke-width="1.7"/>
<rect x="4359.4" y="272.2" width="3.4" height="8" rx="1.7" stroke-width="1.7"/>
<rect x="4375.6" y="279.9" width="10" height="17" rx="4" fill="#fff" stroke-width="1.7"/>
<rect x="4378.9" y="283.4" width="3.4" height="8" rx="1.7" stroke-width="1.7"/>
<rect x="4395" y="291.1" width="10" height="17" rx="4" fill="#fff" stroke-width="1.7"/>
<rect x="4398.3" y="294.6" width="3.4" height="8" rx="1.7" stroke-width="1.7"/>
<rect x="4414.5" y="302.4" width="10" height="17" rx="4" fill="#fff" stroke-width="1.7"/>
<rect x="4417.8" y="305.9" width="3.4" height="8" rx="1.7" stroke-width="1.7"/>
<rect x="4433.9" y="313.6" width="10" height="17" rx="4" fill="#fff" stroke-width="1.7"/>
<rect x="4437.2" y="317.1" width="3.4" height="8" rx="1.7" stroke-width="1.7"/>
<rect x="4453.4" y="324.8" width="10" height="17" rx="4" fill="#fff" stroke-width="1.7"/>
<rect x="4456.7" y="328.3" width="3.4" height="8" rx="1.7" stroke-width="1.7"/>
<path d="M4127.8 625.8L4148.1 637.5L4148.1 615L4127.8 603.3Z" fill="#fff" stroke="#000" stroke-width="1.9"/>
<path d="M4148.1 637.5L4162.7 629.1L4162.7 606.6L4148.1 615Z" fill="#fff" stroke="#000" stroke-width="1.9"/>
<path d="M4127.8 603.3L4142.4 594.9L4162.7 606.6L4148.1 615Z" fill="#fff" stroke="#000" stroke-width="1.9"/>
<path d="M4134.4 605.6L4137.5 584.5L4142.8 581.4L4146.8 598.5Z" fill="#fff" stroke="#000" stroke-width="1.7"/>
<path d="M4144.1 611.2L4147.2 590L4152.5 587L4156.5 604.1Z" fill="#fff" stroke="#000" stroke-width="1.7"/>
<path d="M4129.5 573.8L4157 589.5" stroke-width="3.6"/><path d="M4129.5 573.8L4157 589.5" stroke="#fff" stroke-width="1.2"/>
<circle cx="4129.5" cy="573.8" r="3" stroke-width="1.6" fill="none"/>
<path d="M4145 585.7L4145 580.6" stroke-width="2.5"/>
<path d="M4371.1 459.5L4391.5 471.2L4391.5 448.8L4371.1 437.1Z" fill="#fff" stroke="#000" stroke-width="1.9"/>
<path d="M4391.5 471.2L4406 462.8L4406 440.4L4391.5 448.8Z" fill="#fff" stroke="#000" stroke-width="1.9"/>
<path d="M4371.1 437.1L4385.7 428.7L4406 440.4L4391.5 448.8Z" fill="#fff" stroke="#000" stroke-width="1.9"/>
<path d="M4377.8 439.4L4380.9 418.2L4386.2 415.2L4390.1 432.3Z" fill="#fff" stroke="#000" stroke-width="1.7"/>
<path d="M4387.5 445L4390.6 423.8L4395.9 420.8L4399.9 437.9Z" fill="#fff" stroke="#000" stroke-width="1.7"/>
<path d="M4372.9 407.5L4400.3 423.3" stroke-width="3.6"/><path d="M4372.9 407.5L4400.3 423.3" stroke="#fff" stroke-width="1.2"/>
<circle cx="4372.9" cy="407.5" r="3" stroke-width="1.6" fill="none"/>
<path d="M4388 419.5L4388 414.4" stroke-width="2.5"/>
<path d="M4523.9 371.5L4544.3 383.2L4544.3 360.8L4523.9 349.1Z" fill="#fff" stroke="#000" stroke-width="1.9"/>
<path d="M4544.3 383.2L4559.1 374.7L4559.1 352.2L4544.3 360.8Z" fill="#fff" stroke="#000" stroke-width="1.9"/>
<path d="M4523.9 349.1L4538.7 340.5L4559.1 352.2L4544.3 360.8Z" fill="#fff" stroke="#000" stroke-width="1.9"/>
<path d="M4530.6 351.3L4533.7 330.2L4539 327.1L4543.2 344.1Z" fill="#fff" stroke="#000" stroke-width="1.7"/>
<path d="M4540.3 356.9L4543.4 335.8L4548.7 332.7L4552.9 349.7Z" fill="#fff" stroke="#000" stroke-width="1.7"/>
<path d="M4525.7 319.5L4553.1 335.3" stroke-width="3.6"/><path d="M4525.7 319.5L4553.1 335.3" stroke="#fff" stroke-width="1.2"/>
<circle cx="4525.7" cy="319.5" r="3" stroke-width="1.6" fill="none"/>
<path d="M4541 331.5L4541 326.4" stroke-width="2.5"/>
<path d="M4677.4 283.1L4697.8 294.8L4697.8 272.3L4677.4 260.6Z" fill="#fff" stroke="#000" stroke-width="1.9"/>
<path d="M4697.8 294.8L4711.9 286.6L4711.9 264.2L4697.8 272.3Z" fill="#fff" stroke="#000" stroke-width="1.9"/>
<path d="M4677.4 260.6L4691.5 252.5L4711.9 264.2L4697.8 272.3Z" fill="#fff" stroke="#000" stroke-width="1.9"/>
<path d="M4684 262.9L4687.1 241.8L4692.4 238.7L4696 256Z" fill="#fff" stroke="#000" stroke-width="1.7"/>
<path d="M4693.8 268.5L4696.9 247.4L4702.2 244.3L4705.7 261.6Z" fill="#fff" stroke="#000" stroke-width="1.7"/>
<path d="M4679.2 231.1L4706.6 246.8" stroke-width="3.6"/><path d="M4679.2 231.1L4706.6 246.8" stroke="#fff" stroke-width="1.2"/>
<circle cx="4679.2" cy="231.1" r="3" stroke-width="1.6" fill="none"/>
<path d="M4695 243L4695 237.9" stroke-width="2.5"/>
<path d="M3658.5 196.5L3691 196.5M3691 196.3L3768 579" stroke-width="1"/>
<circle cx="3768" cy="579" r="1.9" stroke-width="0.8" fill="none"/>
<path d="M3766 200.5L3796 200.5M3796 200L3902 479" stroke-width="1"/>
<circle cx="3902" cy="479" r="1.9" stroke-width="0.8" fill="none"/>
<path d="M3818 199.5L3851 199.5M3851 199.5L3957 498" stroke-width="1"/>
<circle cx="3957" cy="498" r="1.9" stroke-width="0.8" fill="none"/>
<path d="M3895 199.5L3930.5 199.5M3930.5 199.5L3978.6 468" stroke-width="1"/>
<circle cx="3978.6" cy="468" r="1.9" stroke-width="0.8" fill="none"/>
<path d="M3988 199.5L4022 199.5M4022 199.5L4147 549" stroke-width="1"/>
<circle cx="4147" cy="549" r="1.9" stroke-width="0.8" fill="none"/>
<text transform="translate(3906 974) scale(0.6 1)" font-size="38" font-style="normal" text-anchor="middle" fill="#000" stroke="none">А-А</text>
</svg>
</body></html>
